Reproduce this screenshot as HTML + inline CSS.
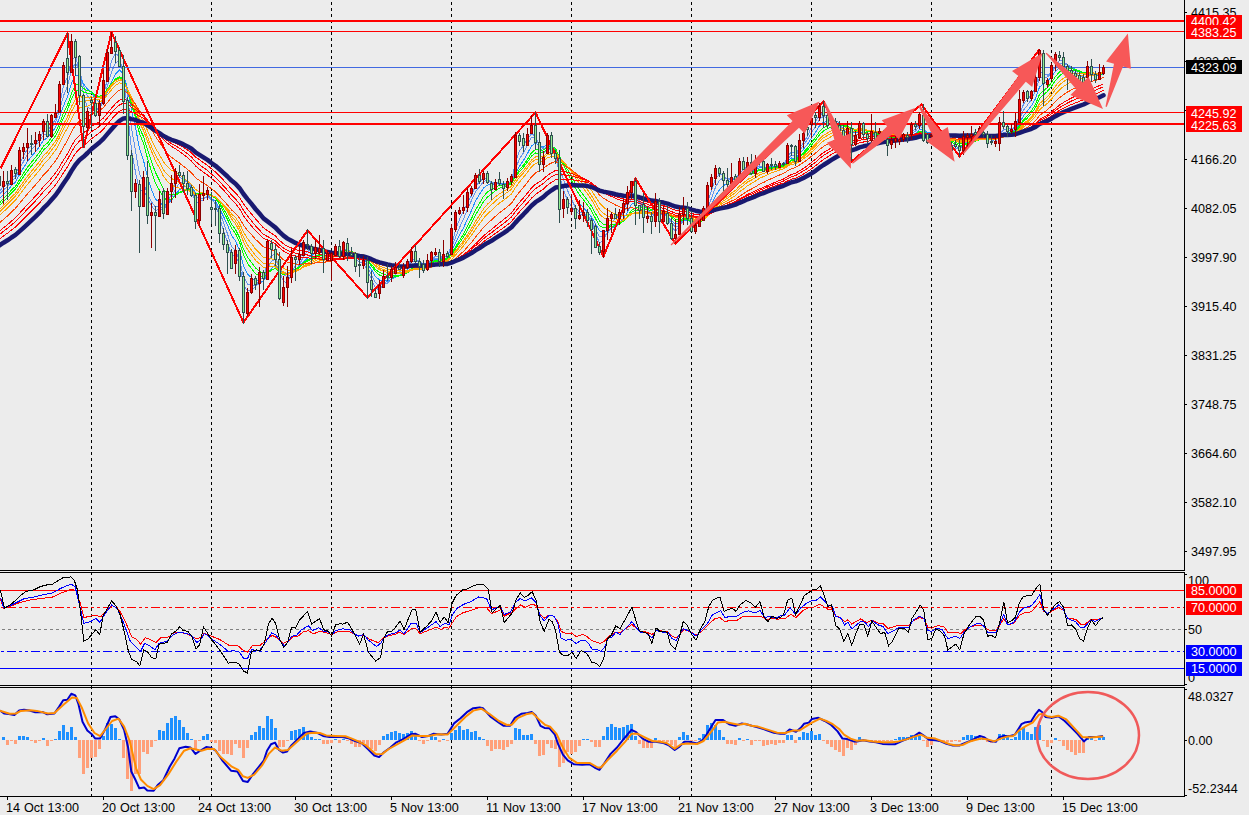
<!DOCTYPE html>
<html><head><meta charset="utf-8"><title>Chart</title>
<style>html,body{margin:0;padding:0;background:#ececec;width:1249px;height:815px;overflow:hidden;font-family:"Liberation Sans",sans-serif}</style>
</head><body>
<svg width="1249" height="815" viewBox="0 0 1249 815" style="display:block">
<rect x="0" y="0" width="1249" height="815" fill="#ececec"/>
<line x1="91.5" y1="2" x2="91.5" y2="797" stroke="#000" stroke-width="1" stroke-dasharray="3 3" shape-rendering="crispEdges"/>
<line x1="211.5" y1="2" x2="211.5" y2="797" stroke="#000" stroke-width="1" stroke-dasharray="3 3" shape-rendering="crispEdges"/>
<line x1="331.5" y1="2" x2="331.5" y2="797" stroke="#000" stroke-width="1" stroke-dasharray="3 3" shape-rendering="crispEdges"/>
<line x1="451.5" y1="2" x2="451.5" y2="797" stroke="#000" stroke-width="1" stroke-dasharray="3 3" shape-rendering="crispEdges"/>
<line x1="571.5" y1="2" x2="571.5" y2="797" stroke="#000" stroke-width="1" stroke-dasharray="3 3" shape-rendering="crispEdges"/>
<line x1="691.5" y1="2" x2="691.5" y2="797" stroke="#000" stroke-width="1" stroke-dasharray="3 3" shape-rendering="crispEdges"/>
<line x1="811.5" y1="2" x2="811.5" y2="797" stroke="#000" stroke-width="1" stroke-dasharray="3 3" shape-rendering="crispEdges"/>
<line x1="931.5" y1="2" x2="931.5" y2="797" stroke="#000" stroke-width="1" stroke-dasharray="3 3" shape-rendering="crispEdges"/>
<line x1="1051.5" y1="2" x2="1051.5" y2="797" stroke="#000" stroke-width="1" stroke-dasharray="3 3" shape-rendering="crispEdges"/>
<g>
<polyline fill="none" stroke="#6495ed" stroke-width="1" shape-rendering="crispEdges" points="-4.5,196.8 -0.5,191.4 3.5,186.4 7.5,184.2 11.5,178.1 15.5,175.4 19.5,164.7 23.5,155.9 27.5,149.1 31.5,145.4 35.5,143.0 39.5,139.2 43.5,131.5 47.5,132.0 51.5,124.9 55.5,119.5 59.5,104.6 63.5,85.8 67.5,76.9 71.5,59.9 75.5,56.5 79.5,71.0 83.5,94.9 87.5,107.4 91.5,109.3 95.5,111.9 99.5,107.7 103.5,96.6 107.5,77.4 111.5,61.2 115.5,53.4 119.5,56.8 123.5,75.6 127.5,111.1 131.5,150.2 135.5,172.1 139.5,191.5 143.5,188.8 147.5,199.1 151.5,205.8 155.5,210.8 159.5,208.5 163.5,209.6 167.5,202.1 171.5,193.5 175.5,183.3 179.5,177.5 183.5,178.7 187.5,182.7 191.5,189.0 195.5,203.3 199.5,202.2 203.5,199.6 207.5,195.3 211.5,199.1 215.5,204.1 219.5,217.2 223.5,230.7 227.5,242.0 231.5,255.4 235.5,255.7 239.5,264.7 243.5,284.9 247.5,291.1 251.5,289.3 255.5,287.1 259.5,279.3 263.5,277.9 267.5,263.1 271.5,255.2 275.5,254.8 279.5,271.3 283.5,281.4 287.5,282.9 291.5,273.6 295.5,265.3 299.5,258.9 303.5,251.0 307.5,247.8 311.5,249.0 315.5,248.4 319.5,248.9 323.5,253.2 327.5,253.7 331.5,254.2 335.5,251.3 339.5,252.6 343.5,248.6 347.5,249.7 351.5,252.1 355.5,258.0 359.5,262.5 363.5,262.7 367.5,270.9 371.5,279.2 375.5,288.4 379.5,289.6 383.5,284.7 387.5,280.8 391.5,274.9 395.5,271.0 399.5,269.7 403.5,267.9 407.5,265.2 411.5,259.3 415.5,259.0 419.5,261.5 423.5,265.6 427.5,264.8 431.5,259.9 435.5,255.9 439.5,256.9 443.5,256.0 447.5,256.5 451.5,245.4 455.5,230.3 459.5,219.3 463.5,211.5 467.5,202.6 471.5,195.7 475.5,186.0 479.5,182.2 483.5,177.8 487.5,178.9 491.5,183.4 495.5,183.7 499.5,184.3 503.5,185.9 507.5,184.1 511.5,181.1 515.5,162.3 519.5,150.7 523.5,145.4 527.5,139.3 531.5,133.8 535.5,136.1 539.5,147.1 543.5,153.4 547.5,148.6 551.5,150.0 555.5,152.3 559.5,175.6 563.5,189.7 567.5,200.6 571.5,206.5 575.5,211.4 579.5,214.2 583.5,214.2 587.5,216.9 591.5,222.0 595.5,233.2 599.5,243.2 603.5,240.4 607.5,231.8 611.5,222.7 615.5,218.5 619.5,215.3 623.5,210.3 627.5,202.4 631.5,192.3 635.5,195.5 639.5,201.4 643.5,209.4 647.5,214.5 651.5,218.1 655.5,212.1 659.5,215.0 663.5,213.5 667.5,217.3 671.5,226.9 675.5,231.2 679.5,226.2 683.5,218.5 687.5,216.3 691.5,221.3 695.5,224.2 699.5,223.2 703.5,217.2 707.5,203.0 711.5,190.2 715.5,178.6 719.5,174.0 723.5,175.7 727.5,179.5 731.5,179.8 735.5,180.0 739.5,172.4 743.5,169.9 747.5,166.1 751.5,168.2 755.5,168.1 759.5,165.9 763.5,168.0 767.5,166.4 771.5,166.1 775.5,166.3 779.5,164.9 783.5,164.7 787.5,156.9 791.5,151.5 795.5,154.1 799.5,148.5 803.5,142.5 807.5,136.1 811.5,127.0 815.5,121.8 819.5,114.5 823.5,113.5 827.5,117.9 831.5,120.4 835.5,124.0 839.5,127.2 843.5,131.7 847.5,131.4 851.5,136.9 855.5,137.0 859.5,131.8 863.5,132.4 867.5,134.0 871.5,133.4 875.5,136.4 879.5,134.6 883.5,135.9 887.5,140.0 891.5,140.7 895.5,140.5 899.5,140.0 903.5,137.4 907.5,137.1 911.5,131.9 915.5,128.9 919.5,122.4 923.5,128.3 927.5,134.7 931.5,136.5 935.5,140.2 939.5,142.7 943.5,145.4 947.5,147.9 951.5,149.4 955.5,148.5 959.5,149.2 963.5,144.1 967.5,139.9 971.5,136.8 975.5,134.9 979.5,132.2 983.5,132.7 987.5,136.9 991.5,139.8 995.5,141.5 999.5,134.3 1003.5,129.9 1007.5,129.2 1011.5,128.8 1015.5,126.4 1019.5,115.3 1023.5,104.1 1027.5,99.2 1031.5,94.6 1035.5,87.4 1039.5,71.6 1043.5,73.2 1047.5,75.1 1051.5,72.1 1055.5,65.9 1059.5,60.5 1063.5,61.3 1067.5,65.1 1071.5,69.6 1075.5,73.4 1079.5,76.9 1083.5,79.8 1087.5,75.1 1091.5,74.3 1095.5,75.7 1099.5,74.4 1103.5,72.1"/>
<polyline fill="none" stroke="#6495ed" stroke-width="1" shape-rendering="crispEdges" points="-4.5,199.5 -0.5,194.5 3.5,189.7 7.5,186.7 11.5,181.1 15.5,177.9 19.5,169.1 23.5,161.5 27.5,154.6 31.5,149.7 35.5,145.6 39.5,141.2 43.5,134.9 47.5,134.3 51.5,128.2 55.5,122.9 59.5,110.7 63.5,95.8 67.5,86.2 71.5,70.1 75.5,63.0 79.5,69.6 83.5,85.9 87.5,95.8 91.5,101.1 95.5,108.6 99.5,109.2 103.5,101.0 107.5,85.5 111.5,72.1 115.5,62.9 119.5,60.4 123.5,70.3 127.5,95.7 131.5,127.8 135.5,150.9 139.5,174.2 143.5,181.8 147.5,195.0 151.5,201.9 155.5,207.0 159.5,206.3 163.5,208.9 167.5,204.8 171.5,197.8 175.5,188.9 179.5,183.1 183.5,181.5 187.5,182.1 191.5,185.8 195.5,196.8 199.5,198.3 203.5,198.4 207.5,196.8 211.5,200.3 215.5,202.7 219.5,211.4 223.5,222.6 227.5,233.8 231.5,246.7 235.5,250.7 239.5,260.2 243.5,276.8 247.5,284.0 251.5,284.8 255.5,286.2 259.5,283.3 263.5,281.1 267.5,268.3 271.5,261.1 275.5,258.8 279.5,268.6 283.5,274.6 287.5,276.9 291.5,273.6 295.5,270.2 299.5,264.8 303.5,256.2 307.5,251.2 311.5,250.4 315.5,249.1 319.5,248.5 323.5,251.6 327.5,252.8 331.5,253.4 335.5,251.6 339.5,253.0 343.5,250.0 347.5,250.2 351.5,251.5 355.5,255.9 359.5,259.4 363.5,260.5 367.5,267.7 371.5,275.1 375.5,282.9 379.5,285.3 383.5,284.3 387.5,283.0 391.5,278.6 395.5,274.3 399.5,271.6 403.5,269.4 407.5,266.6 411.5,261.7 415.5,260.9 419.5,261.9 423.5,264.1 427.5,263.4 431.5,260.6 435.5,258.4 439.5,258.6 443.5,256.8 447.5,256.2 451.5,248.3 455.5,237.3 459.5,227.6 463.5,219.1 467.5,208.9 471.5,200.5 475.5,191.6 479.5,186.9 483.5,181.4 487.5,180.3 491.5,182.3 495.5,182.5 499.5,183.3 503.5,185.1 507.5,184.6 511.5,182.2 515.5,168.5 519.5,159.0 523.5,152.6 527.5,144.9 531.5,137.2 535.5,137.0 539.5,144.7 543.5,149.0 547.5,146.3 551.5,149.2 555.5,152.6 559.5,169.0 563.5,179.4 567.5,190.4 571.5,199.3 575.5,207.6 579.5,211.9 583.5,212.7 587.5,215.6 591.5,220.1 595.5,228.6 599.5,236.8 603.5,237.0 607.5,233.1 611.5,227.8 615.5,223.9 619.5,218.8 623.5,212.8 627.5,206.0 631.5,197.8 635.5,198.3 639.5,200.7 643.5,205.4 647.5,209.6 651.5,214.6 655.5,212.5 659.5,215.1 663.5,214.2 667.5,216.6 671.5,223.0 675.5,227.2 679.5,225.2 683.5,220.7 687.5,219.8 691.5,222.2 695.5,222.5 699.5,221.5 703.5,218.3 707.5,208.9 711.5,198.3 715.5,187.1 719.5,180.3 723.5,177.9 727.5,178.5 731.5,178.3 735.5,179.0 739.5,174.5 743.5,172.6 747.5,168.9 751.5,169.2 755.5,168.0 759.5,166.2 763.5,167.7 767.5,166.8 771.5,166.4 775.5,166.2 779.5,165.4 783.5,165.1 787.5,159.3 791.5,154.9 795.5,155.7 799.5,150.8 803.5,145.0 807.5,139.5 811.5,132.6 815.5,126.6 819.5,118.9 823.5,116.4 827.5,117.9 831.5,119.0 835.5,121.5 839.5,124.8 843.5,129.4 847.5,130.0 851.5,134.6 855.5,135.7 859.5,132.7 863.5,133.1 867.5,134.4 871.5,133.6 875.5,135.0 879.5,134.3 883.5,135.9 887.5,138.7 891.5,139.5 895.5,139.7 899.5,139.8 903.5,138.6 907.5,138.0 911.5,133.8 915.5,131.1 919.5,125.7 923.5,128.8 927.5,132.5 931.5,133.8 935.5,137.1 939.5,140.8 943.5,144.1 947.5,146.0 951.5,147.8 955.5,148.1 959.5,149.0 963.5,145.5 967.5,142.2 971.5,139.3 975.5,137.0 979.5,133.9 983.5,133.2 987.5,136.0 991.5,138.0 995.5,139.5 999.5,135.2 1003.5,132.7 1007.5,131.6 1011.5,130.1 1015.5,127.0 1019.5,118.7 1023.5,110.3 1027.5,105.1 1031.5,99.2 1035.5,91.2 1039.5,77.9 1043.5,77.5 1047.5,77.0 1051.5,72.8 1055.5,67.0 1059.5,63.8 1063.5,64.1 1067.5,64.8 1071.5,67.0 1075.5,70.4 1079.5,74.4 1083.5,77.7 1087.5,75.3 1091.5,75.2 1095.5,76.3 1099.5,75.1 1103.5,72.6"/>
<polyline fill="none" stroke="#1e90ff" stroke-width="1" shape-rendering="crispEdges" points="-4.5,203.5 -0.5,198.8 3.5,194.2 7.5,190.8 11.5,185.7 15.5,182.0 19.5,174.6 23.5,167.8 27.5,161.4 31.5,156.4 35.5,151.6 39.5,146.6 43.5,140.1 47.5,137.9 51.5,132.3 55.5,127.6 59.5,117.9 63.5,105.8 67.5,96.8 71.5,83.2 75.5,75.0 79.5,76.1 83.5,84.0 87.5,89.1 91.5,92.5 95.5,98.8 99.5,102.0 103.5,99.7 107.5,91.7 111.5,82.4 115.5,74.1 119.5,69.8 123.5,73.9 127.5,88.9 131.5,110.0 135.5,127.7 139.5,148.3 143.5,160.3 147.5,177.2 151.5,189.7 155.5,199.2 159.5,202.2 163.5,205.9 167.5,203.8 171.5,200.2 175.5,194.1 179.5,189.7 183.5,186.9 187.5,185.7 191.5,186.6 195.5,193.0 199.5,193.6 203.5,194.4 207.5,194.6 211.5,198.4 215.5,201.4 219.5,208.4 223.5,216.5 227.5,224.9 231.5,235.2 235.5,240.9 239.5,250.6 243.5,265.6 247.5,274.0 251.5,277.7 255.5,281.0 259.5,280.9 263.5,281.3 267.5,273.7 271.5,268.4 275.5,265.0 279.5,269.9 283.5,272.8 287.5,273.8 291.5,270.9 295.5,269.0 299.5,266.3 303.5,261.8 307.5,257.9 311.5,255.7 315.5,252.4 319.5,250.4 323.5,251.5 327.5,251.8 331.5,252.1 335.5,251.2 339.5,252.5 343.5,250.7 347.5,250.9 351.5,251.8 355.5,254.7 359.5,257.0 363.5,258.1 367.5,263.5 371.5,269.7 375.5,276.5 379.5,279.9 383.5,280.7 387.5,281.1 391.5,279.4 395.5,277.3 399.5,275.5 403.5,272.9 407.5,269.6 411.5,265.0 415.5,263.4 419.5,263.3 423.5,264.3 427.5,263.4 431.5,261.1 435.5,259.2 439.5,259.4 443.5,258.3 447.5,257.8 451.5,251.6 455.5,242.9 459.5,235.0 463.5,227.9 467.5,218.9 471.5,210.5 475.5,200.9 479.5,194.4 483.5,188.0 487.5,185.1 491.5,184.7 495.5,183.4 499.5,182.9 503.5,183.9 507.5,183.7 511.5,182.5 515.5,173.2 519.5,166.1 523.5,160.4 527.5,153.5 531.5,145.9 535.5,143.0 539.5,145.4 543.5,147.0 547.5,144.7 551.5,146.9 555.5,149.6 559.5,162.3 563.5,171.4 567.5,180.8 571.5,188.5 575.5,196.8 579.5,203.2 583.5,207.8 587.5,212.2 591.5,217.0 595.5,223.8 599.5,230.8 603.5,232.1 607.5,230.6 611.5,228.1 615.5,226.4 619.5,223.5 623.5,218.8 627.5,212.2 631.5,204.3 635.5,202.6 639.5,203.0 643.5,205.2 647.5,207.3 651.5,210.3 655.5,209.2 659.5,212.4 663.5,213.1 667.5,215.9 671.5,220.7 675.5,224.0 679.5,222.7 683.5,220.3 687.5,220.1 691.5,222.6 695.5,223.2 699.5,222.3 703.5,219.3 707.5,212.0 711.5,204.2 715.5,196.0 719.5,189.7 723.5,185.7 727.5,183.3 731.5,180.5 735.5,179.2 739.5,175.1 743.5,173.7 747.5,171.3 751.5,171.4 755.5,169.9 759.5,167.9 763.5,168.0 767.5,167.0 771.5,166.5 775.5,166.6 779.5,165.9 783.5,165.5 787.5,161.3 791.5,158.0 795.5,158.1 799.5,154.0 803.5,149.1 807.5,144.2 811.5,137.9 815.5,132.5 819.5,125.8 823.5,122.3 827.5,121.4 831.5,120.3 835.5,121.0 839.5,122.7 843.5,125.9 847.5,127.1 851.5,131.4 855.5,133.2 859.5,132.0 863.5,132.8 867.5,134.2 871.5,133.8 875.5,135.0 879.5,134.3 883.5,135.2 887.5,137.2 891.5,138.2 895.5,138.7 899.5,139.1 903.5,138.4 907.5,138.3 911.5,135.6 915.5,133.5 919.5,129.2 923.5,130.6 927.5,132.5 931.5,133.0 935.5,134.9 939.5,137.5 943.5,140.3 947.5,143.1 951.5,145.4 955.5,146.5 959.5,147.6 963.5,145.8 967.5,143.8 971.5,141.7 975.5,139.8 979.5,136.9 983.5,135.6 987.5,136.5 991.5,137.4 995.5,138.1 999.5,135.2 1003.5,133.5 1007.5,132.9 1011.5,132.0 1015.5,129.6 1019.5,123.0 1023.5,115.8 1027.5,110.9 1031.5,105.6 1035.5,98.5 1039.5,87.1 1043.5,84.0 1047.5,81.4 1051.5,76.8 1055.5,71.3 1059.5,67.4 1063.5,66.0 1067.5,66.2 1071.5,67.4 1075.5,69.4 1079.5,71.5 1083.5,74.1 1087.5,73.4 1091.5,74.4 1095.5,75.8 1099.5,75.4 1103.5,73.9"/>
<polyline fill="none" stroke="#00ff00" stroke-width="1" shape-rendering="crispEdges" points="-4.5,207.5 -0.5,202.9 3.5,198.4 7.5,194.9 11.5,190.0 15.5,186.3 19.5,179.6 23.5,173.4 27.5,167.3 31.5,162.3 35.5,157.4 39.5,152.3 43.5,146.1 47.5,143.1 51.5,137.4 55.5,132.3 59.5,123.6 63.5,113.1 67.5,105.1 71.5,93.2 75.5,85.2 79.5,84.1 83.5,88.5 87.5,90.6 91.5,91.7 95.5,95.1 99.5,96.9 103.5,95.3 107.5,89.8 111.5,84.0 115.5,79.0 119.5,76.6 123.5,79.2 127.5,89.6 131.5,104.7 135.5,117.8 139.5,133.4 143.5,143.3 147.5,158.3 151.5,171.4 155.5,183.2 159.5,190.5 163.5,198.0 167.5,200.0 171.5,199.2 175.5,195.5 179.5,192.3 183.5,190.4 187.5,189.3 191.5,189.6 195.5,193.6 199.5,193.4 203.5,193.2 207.5,192.9 211.5,195.7 215.5,198.4 219.5,204.6 223.5,211.9 227.5,219.4 231.5,228.4 235.5,233.5 239.5,241.9 243.5,254.7 247.5,263.4 251.5,268.6 255.5,273.7 259.5,275.7 263.5,277.9 267.5,273.5 271.5,270.2 275.5,268.4 279.5,272.5 283.5,274.5 287.5,274.4 291.5,271.3 295.5,269.2 299.5,266.8 303.5,262.8 307.5,259.8 311.5,258.4 315.5,256.4 319.5,254.5 323.5,254.2 327.5,253.1 331.5,252.5 335.5,251.3 339.5,252.0 343.5,250.6 347.5,250.9 351.5,251.7 355.5,254.0 359.5,256.0 363.5,256.9 367.5,261.1 371.5,266.0 375.5,271.7 379.5,275.0 383.5,276.5 387.5,277.8 391.5,277.6 395.5,276.7 399.5,275.9 403.5,274.5 407.5,272.3 411.5,268.7 415.5,266.7 419.5,265.7 423.5,265.6 427.5,264.4 431.5,262.2 435.5,260.3 439.5,260.2 443.5,259.1 447.5,258.4 451.5,253.6 455.5,246.9 459.5,240.5 463.5,234.1 467.5,226.1 471.5,218.5 475.5,209.9 479.5,203.4 483.5,196.5 487.5,192.0 491.5,189.5 495.5,186.9 499.5,185.3 503.5,185.0 507.5,184.0 511.5,182.6 515.5,175.3 519.5,169.6 523.5,165.1 527.5,159.4 531.5,152.8 535.5,149.5 539.5,150.1 543.5,150.0 547.5,146.7 551.5,146.9 555.5,148.3 559.5,157.8 563.5,165.3 567.5,173.2 571.5,180.5 575.5,188.5 579.5,195.0 583.5,199.8 587.5,205.0 591.5,210.8 595.5,218.5 599.5,225.6 603.5,227.9 607.5,227.6 611.5,226.4 615.5,225.8 619.5,224.0 623.5,220.9 627.5,216.2 631.5,210.1 635.5,208.1 639.5,207.1 643.5,207.4 647.5,207.9 651.5,209.6 655.5,208.4 659.5,210.5 663.5,210.9 667.5,213.3 671.5,217.8 675.5,221.3 679.5,221.1 683.5,219.7 687.5,219.7 691.5,221.6 695.5,222.4 699.5,222.0 703.5,220.2 707.5,214.7 711.5,208.4 715.5,201.2 719.5,195.5 723.5,191.7 727.5,189.1 731.5,185.9 735.5,183.4 739.5,178.6 743.5,176.0 747.5,172.9 751.5,172.3 755.5,171.1 759.5,169.5 763.5,169.5 767.5,168.3 771.5,167.5 775.5,166.9 779.5,166.2 783.5,165.8 787.5,162.6 791.5,159.9 795.5,159.7 799.5,156.3 803.5,152.3 807.5,148.0 811.5,142.5 815.5,137.6 819.5,131.5 823.5,127.5 827.5,125.8 831.5,124.0 835.5,123.4 839.5,123.7 843.5,125.2 847.5,125.7 851.5,128.8 855.5,130.4 859.5,130.0 863.5,131.3 867.5,133.0 871.5,133.2 875.5,134.4 879.5,134.2 883.5,135.0 887.5,136.7 891.5,137.4 895.5,137.8 899.5,138.2 903.5,137.9 907.5,138.1 911.5,136.1 915.5,134.5 919.5,131.3 923.5,132.2 927.5,133.5 931.5,133.5 935.5,134.6 939.5,136.4 943.5,138.4 947.5,140.5 951.5,142.5 955.5,143.8 959.5,145.5 963.5,144.8 967.5,143.8 971.5,142.4 975.5,141.1 979.5,138.9 983.5,137.8 987.5,138.1 991.5,138.3 995.5,138.4 999.5,135.7 1003.5,134.0 1007.5,133.3 1011.5,132.6 1015.5,130.7 1019.5,125.6 1023.5,119.9 1027.5,115.7 1031.5,110.8 1035.5,104.2 1039.5,94.4 1043.5,90.8 1047.5,87.5 1051.5,82.5 1055.5,76.5 1059.5,72.0 1063.5,69.8 1067.5,68.9 1071.5,68.8 1075.5,69.4 1079.5,70.9 1083.5,72.9 1087.5,72.3 1091.5,72.8 1095.5,74.1 1099.5,74.4 1103.5,73.8"/>
<polyline fill="none" stroke="#00ff00" stroke-width="1" shape-rendering="crispEdges" points="-4.5,210.0 -0.5,205.6 3.5,201.1 7.5,197.6 11.5,192.8 15.5,189.1 19.5,182.8 23.5,176.8 27.5,171.0 31.5,166.0 35.5,161.1 39.5,156.1 43.5,150.0 47.5,146.6 51.5,141.0 55.5,135.9 59.5,127.6 63.5,117.7 67.5,109.8 71.5,98.7 75.5,91.0 79.5,89.3 83.5,92.1 87.5,93.1 91.5,93.3 95.5,95.5 99.5,96.3 103.5,94.3 107.5,89.0 111.5,83.7 115.5,79.6 119.5,77.7 123.5,80.5 127.5,90.2 131.5,103.6 135.5,114.7 139.5,128.0 143.5,136.6 147.5,149.8 151.5,161.4 155.5,172.6 159.5,180.5 163.5,189.2 167.5,193.4 171.5,195.2 175.5,194.1 179.5,192.6 183.5,191.4 187.5,190.6 191.5,190.8 195.5,194.4 199.5,194.2 203.5,193.7 207.5,193.1 211.5,195.1 215.5,197.2 219.5,202.4 223.5,208.9 227.5,215.9 231.5,224.3 235.5,229.5 239.5,237.4 243.5,249.2 247.5,257.2 251.5,262.5 255.5,268.0 259.5,271.1 263.5,274.2 267.5,271.6 271.5,269.7 275.5,268.7 279.5,272.7 283.5,274.7 287.5,275.0 291.5,272.6 295.5,270.4 299.5,267.6 303.5,263.9 307.5,261.0 311.5,259.5 315.5,257.4 319.5,255.8 323.5,255.9 327.5,255.0 331.5,254.1 335.5,252.3 339.5,252.3 343.5,250.8 347.5,250.9 351.5,251.5 355.5,253.5 359.5,255.4 363.5,256.3 367.5,260.0 371.5,264.4 375.5,269.5 379.5,272.5 383.5,274.0 387.5,275.5 391.5,275.7 395.5,275.4 399.5,275.3 403.5,274.5 407.5,272.9 411.5,269.9 415.5,268.3 419.5,267.5 423.5,267.2 427.5,265.6 431.5,263.3 435.5,261.3 439.5,260.9 443.5,259.7 447.5,259.0 451.5,254.7 455.5,248.7 459.5,242.9 463.5,237.2 467.5,230.1 471.5,223.0 475.5,214.9 479.5,208.5 483.5,201.8 487.5,197.1 491.5,194.0 495.5,190.6 499.5,188.1 503.5,186.8 507.5,185.3 511.5,183.6 515.5,176.7 519.5,171.4 523.5,167.2 527.5,162.0 531.5,156.1 535.5,153.0 539.5,153.2 543.5,152.5 547.5,149.2 551.5,148.7 555.5,149.2 559.5,156.7 563.5,162.7 567.5,169.5 571.5,176.3 575.5,183.6 579.5,189.8 583.5,195.0 587.5,200.5 591.5,206.3 595.5,213.6 599.5,220.9 603.5,224.3 607.5,225.2 611.5,224.9 615.5,224.7 619.5,223.6 623.5,221.2 627.5,217.3 631.5,212.1 635.5,210.5 639.5,209.6 643.5,209.7 647.5,209.7 651.5,210.4 655.5,208.7 659.5,210.2 663.5,210.4 667.5,212.3 671.5,216.1 675.5,219.2 679.5,219.4 683.5,218.7 687.5,219.2 691.5,221.0 695.5,221.8 699.5,221.6 703.5,220.0 707.5,215.5 711.5,210.2 715.5,203.9 719.5,198.8 723.5,195.0 727.5,192.2 731.5,188.9 735.5,186.4 739.5,181.8 743.5,178.8 747.5,175.3 751.5,173.9 755.5,172.1 759.5,170.3 763.5,170.1 767.5,169.0 771.5,168.3 775.5,167.7 779.5,166.8 783.5,166.2 787.5,163.2 791.5,160.7 795.5,160.5 799.5,157.6 803.5,153.9 807.5,150.0 811.5,145.1 815.5,140.4 819.5,134.7 823.5,130.9 827.5,128.8 831.5,126.7 835.5,125.5 839.5,125.2 843.5,126.2 847.5,126.0 851.5,128.2 855.5,129.3 859.5,128.9 863.5,130.1 867.5,131.7 871.5,132.3 875.5,133.7 879.5,133.8 883.5,134.6 887.5,136.3 891.5,137.1 895.5,137.4 899.5,137.9 903.5,137.6 907.5,137.7 911.5,136.1 915.5,134.9 919.5,132.1 923.5,132.9 927.5,134.0 931.5,134.0 935.5,134.9 939.5,136.3 943.5,137.9 947.5,139.6 951.5,141.3 955.5,142.4 959.5,144.0 963.5,143.6 967.5,143.0 971.5,142.2 975.5,141.4 979.5,139.5 983.5,138.6 987.5,138.9 991.5,139.0 995.5,139.0 999.5,136.5 1003.5,134.8 1007.5,133.9 1011.5,133.0 1015.5,131.2 1019.5,126.8 1023.5,121.7 1027.5,117.9 1031.5,113.5 1035.5,107.6 1039.5,98.6 1043.5,94.9 1047.5,91.3 1051.5,86.3 1055.5,80.5 1059.5,75.8 1063.5,73.0 1067.5,71.3 1071.5,70.5 1075.5,70.6 1079.5,71.5 1083.5,72.7 1087.5,71.9 1091.5,72.4 1095.5,73.7 1099.5,73.7 1103.5,73.1"/>
<polyline fill="none" stroke="#ffa500" stroke-width="1" shape-rendering="crispEdges" points="-4.5,213.8 -0.5,209.5 3.5,205.2 7.5,201.6 11.5,197.0 15.5,193.3 19.5,187.4 23.5,181.7 27.5,176.2 31.5,171.3 35.5,166.5 39.5,161.5 43.5,155.6 47.5,152.0 51.5,146.5 55.5,141.4 59.5,133.6 63.5,124.4 67.5,116.9 71.5,106.6 75.5,98.9 79.5,96.3 83.5,97.7 87.5,97.6 91.5,96.8 95.5,97.8 99.5,97.6 103.5,95.2 107.5,90.1 111.5,85.0 115.5,80.7 119.5,78.7 123.5,80.9 127.5,89.1 131.5,100.8 135.5,110.8 139.5,122.7 143.5,130.3 147.5,141.3 151.5,151.2 155.5,160.9 159.5,168.2 163.5,176.4 167.5,181.5 171.5,185.2 175.5,186.8 179.5,188.1 183.5,189.4 187.5,190.5 191.5,191.5 195.5,194.9 199.5,194.8 203.5,194.6 207.5,193.9 211.5,195.5 215.5,196.9 219.5,200.9 223.5,206.0 227.5,211.8 231.5,218.9 235.5,223.8 239.5,231.1 243.5,241.8 247.5,249.5 251.5,254.8 255.5,260.3 259.5,263.8 263.5,267.5 267.5,266.7 271.5,266.4 275.5,266.9 279.5,271.2 283.5,273.7 287.5,274.6 291.5,273.0 295.5,271.5 299.5,269.4 303.5,266.1 307.5,263.2 311.5,261.4 315.5,259.2 319.5,257.5 323.5,257.2 327.5,256.4 331.5,255.7 335.5,254.4 339.5,254.2 343.5,252.4 347.5,251.7 351.5,251.7 355.5,253.2 359.5,254.6 363.5,255.4 367.5,258.6 371.5,262.4 375.5,266.8 379.5,269.6 383.5,271.2 387.5,272.7 391.5,273.1 395.5,273.2 399.5,273.5 403.5,273.3 407.5,272.4 411.5,270.4 415.5,269.4 419.5,268.9 423.5,268.8 427.5,267.5 431.5,265.4 435.5,263.4 439.5,262.5 443.5,261.1 447.5,260.2 451.5,256.3 455.5,251.0 459.5,245.9 463.5,240.9 467.5,234.6 471.5,228.4 475.5,221.2 479.5,215.3 483.5,208.9 487.5,204.1 491.5,200.6 495.5,196.8 499.5,193.7 503.5,191.5 507.5,188.9 511.5,186.4 515.5,179.7 519.5,174.5 523.5,170.4 527.5,165.4 531.5,160.0 535.5,157.0 539.5,156.8 543.5,156.0 547.5,152.8 551.5,151.9 555.5,151.7 559.5,157.3 563.5,161.7 567.5,166.8 571.5,171.9 575.5,178.0 579.5,183.5 583.5,188.4 587.5,193.8 591.5,199.6 595.5,206.8 599.5,213.9 603.5,217.7 607.5,219.6 611.5,220.8 615.5,222.0 619.5,222.0 623.5,220.6 627.5,217.8 631.5,213.8 635.5,212.6 639.5,211.9 643.5,212.0 647.5,212.0 651.5,212.5 655.5,210.7 659.5,211.3 663.5,210.8 667.5,211.9 671.5,214.8 675.5,217.2 679.5,217.3 683.5,216.8 687.5,217.4 691.5,219.4 695.5,220.6 699.5,220.8 703.5,219.7 707.5,216.0 711.5,211.6 715.5,206.5 719.5,202.2 723.5,198.9 727.5,196.3 731.5,193.1 735.5,190.4 739.5,185.9 743.5,182.9 747.5,179.5 751.5,177.6 755.5,175.2 759.5,172.7 763.5,171.7 767.5,170.2 771.5,169.2 775.5,168.6 779.5,167.8 783.5,167.2 787.5,164.5 791.5,162.1 795.5,161.7 799.5,159.0 803.5,155.8 807.5,152.5 811.5,148.1 815.5,144.0 819.5,138.9 823.5,135.2 827.5,133.0 831.5,130.6 835.5,129.0 839.5,128.1 843.5,128.2 847.5,127.6 851.5,128.9 855.5,129.4 859.5,128.6 863.5,129.2 867.5,130.4 871.5,130.9 875.5,132.2 879.5,132.6 883.5,133.7 887.5,135.4 891.5,136.3 895.5,136.8 899.5,137.3 903.5,137.2 907.5,137.4 911.5,136.1 915.5,135.1 919.5,132.7 923.5,133.5 927.5,134.4 931.5,134.4 935.5,135.2 939.5,136.3 943.5,137.6 947.5,139.0 951.5,140.3 955.5,141.2 959.5,142.4 963.5,142.1 967.5,141.7 971.5,141.2 975.5,140.7 979.5,139.6 983.5,139.1 987.5,139.5 991.5,139.7 995.5,139.7 999.5,137.6 1003.5,136.0 1007.5,135.1 1011.5,134.1 1015.5,132.3 1019.5,128.3 1023.5,123.8 1027.5,120.4 1031.5,116.5 1035.5,111.4 1039.5,103.7 1043.5,100.1 1047.5,96.6 1051.5,91.7 1055.5,86.1 1059.5,81.3 1063.5,78.2 1067.5,75.9 1071.5,74.4 1075.5,73.4 1079.5,73.3 1083.5,73.7 1087.5,72.6 1091.5,72.6 1095.5,73.2 1099.5,73.2 1103.5,72.7"/>
<polyline fill="none" stroke="#ffa500" stroke-width="1" shape-rendering="crispEdges" points="-4.5,216.3 -0.5,212.0 3.5,207.8 7.5,204.2 11.5,199.8 15.5,196.0 19.5,190.4 23.5,184.9 27.5,179.5 31.5,174.7 35.5,170.0 39.5,165.1 43.5,159.3 47.5,155.6 51.5,150.1 55.5,145.0 59.5,137.5 63.5,128.7 67.5,121.4 71.5,111.5 75.5,104.1 79.5,101.0 83.5,101.5 87.5,100.8 91.5,99.5 95.5,99.9 99.5,99.4 103.5,96.7 107.5,91.7 111.5,86.6 115.5,82.4 119.5,80.1 123.5,81.6 127.5,88.6 131.5,98.9 135.5,108.1 139.5,119.1 143.5,126.4 147.5,137.0 151.5,146.5 155.5,155.4 159.5,162.1 163.5,169.8 167.5,174.8 171.5,178.5 175.5,180.6 179.5,182.8 183.5,185.3 187.5,187.6 191.5,189.9 195.5,194.0 199.5,194.7 203.5,194.7 207.5,194.3 211.5,195.8 215.5,197.1 219.5,200.7 223.5,205.1 227.5,210.1 231.5,216.5 235.5,220.8 239.5,227.4 243.5,237.3 247.5,244.7 251.5,250.1 255.5,255.6 259.5,259.4 263.5,263.3 267.5,263.1 271.5,263.3 275.5,264.4 279.5,269.0 283.5,272.0 287.5,273.4 291.5,272.5 295.5,271.5 299.5,269.9 303.5,267.0 307.5,264.5 311.5,263.0 315.5,260.8 319.5,258.8 323.5,258.3 327.5,257.4 331.5,256.6 335.5,255.2 339.5,255.0 343.5,253.5 347.5,252.9 351.5,252.7 355.5,253.5 359.5,254.5 363.5,255.0 367.5,257.9 371.5,261.3 375.5,265.4 379.5,268.0 383.5,269.6 387.5,271.1 391.5,271.7 395.5,271.9 399.5,272.3 403.5,272.2 407.5,271.7 411.5,270.0 415.5,269.4 419.5,269.2 423.5,269.2 427.5,268.2 431.5,266.4 435.5,264.6 439.5,263.8 443.5,262.4 447.5,261.2 451.5,257.5 455.5,252.5 459.5,247.7 463.5,243.0 467.5,237.2 471.5,231.4 475.5,224.7 479.5,219.0 483.5,213.1 487.5,208.4 491.5,204.8 495.5,200.9 499.5,197.5 503.5,195.0 507.5,192.2 511.5,189.2 515.5,182.5 519.5,177.1 523.5,172.8 527.5,167.9 531.5,162.6 535.5,159.5 539.5,158.9 543.5,157.9 547.5,154.8 551.5,153.9 555.5,153.5 559.5,158.3 563.5,161.9 567.5,166.3 571.5,170.6 575.5,175.8 579.5,180.6 583.5,184.9 587.5,189.9 591.5,195.5 595.5,202.4 599.5,209.3 603.5,213.4 607.5,215.9 611.5,217.4 615.5,219.0 619.5,219.7 623.5,219.3 627.5,217.4 631.5,214.1 635.5,213.2 639.5,212.7 643.5,212.9 647.5,212.9 651.5,213.4 655.5,211.8 659.5,212.3 663.5,211.8 667.5,212.5 671.5,214.7 675.5,216.5 679.5,216.5 683.5,216.0 687.5,216.5 691.5,218.3 695.5,219.4 699.5,219.8 703.5,219.2 707.5,216.1 711.5,212.2 715.5,207.6 719.5,203.7 723.5,200.7 727.5,198.3 731.5,195.4 735.5,192.8 739.5,188.6 743.5,185.5 747.5,182.0 751.5,180.0 755.5,177.6 759.5,175.0 763.5,173.6 767.5,171.7 771.5,170.3 775.5,169.3 779.5,168.3 783.5,167.7 787.5,165.3 791.5,163.1 795.5,162.6 799.5,160.1 803.5,157.0 807.5,153.8 811.5,149.8 815.5,146.0 819.5,141.2 823.5,137.7 827.5,135.4 831.5,133.1 835.5,131.4 839.5,130.2 843.5,130.0 847.5,129.0 851.5,129.9 855.5,130.0 859.5,129.0 863.5,129.4 867.5,130.2 871.5,130.4 875.5,131.5 879.5,131.8 883.5,132.8 887.5,134.5 891.5,135.5 895.5,136.2 899.5,136.9 903.5,136.9 907.5,137.2 911.5,136.1 915.5,135.2 919.5,133.1 923.5,133.7 927.5,134.5 931.5,134.6 935.5,135.3 939.5,136.3 943.5,137.5 947.5,138.7 951.5,139.9 955.5,140.7 959.5,141.8 963.5,141.4 967.5,141.1 971.5,140.6 975.5,140.2 979.5,139.2 983.5,138.9 987.5,139.4 991.5,139.8 995.5,139.9 999.5,138.0 1003.5,136.6 1007.5,135.8 1011.5,134.8 1015.5,133.1 1019.5,129.4 1023.5,125.2 1027.5,121.9 1031.5,118.2 1035.5,113.4 1039.5,106.3 1043.5,102.9 1047.5,99.5 1051.5,94.9 1055.5,89.6 1059.5,85.0 1063.5,81.6 1067.5,79.1 1071.5,77.2 1075.5,76.0 1079.5,75.4 1083.5,75.2 1087.5,73.7 1091.5,73.3 1095.5,73.6 1099.5,73.3 1103.5,72.6"/>
<polyline fill="none" stroke="#ffa500" stroke-width="1" shape-rendering="crispEdges" points="-4.5,220.0 -0.5,215.8 3.5,211.7 7.5,208.2 11.5,203.8 15.5,200.2 19.5,194.8 23.5,189.6 27.5,184.4 31.5,179.7 35.5,175.0 39.5,170.2 43.5,164.7 47.5,160.8 51.5,155.5 55.5,150.4 59.5,143.3 63.5,135.0 67.5,127.9 71.5,118.6 75.5,111.3 79.5,107.9 83.5,107.5 87.5,106.1 91.5,104.1 95.5,103.7 99.5,102.5 103.5,99.6 107.5,94.7 111.5,89.8 115.5,85.5 119.5,82.9 123.5,83.6 127.5,89.1 131.5,97.6 135.5,105.2 139.5,114.6 143.5,121.1 147.5,130.7 151.5,139.6 155.5,148.2 159.5,154.8 163.5,162.0 167.5,166.7 171.5,170.3 175.5,172.7 179.5,175.1 183.5,178.0 187.5,181.0 191.5,184.4 195.5,189.5 199.5,191.7 203.5,193.2 207.5,193.9 211.5,195.7 215.5,197.1 219.5,200.3 223.5,204.2 227.5,208.5 231.5,214.0 235.5,217.6 239.5,223.3 243.5,232.0 247.5,238.6 251.5,243.6 255.5,249.0 259.5,253.1 263.5,257.3 267.5,257.8 271.5,258.8 275.5,260.3 279.5,264.9 283.5,268.1 287.5,270.2 291.5,270.2 295.5,270.2 299.5,269.4 303.5,267.4 307.5,265.6 311.5,264.4 315.5,262.6 319.5,261.0 323.5,260.4 327.5,259.2 331.5,258.1 335.5,256.6 339.5,256.2 343.5,254.6 347.5,254.0 351.5,253.8 355.5,254.6 359.5,255.3 363.5,255.4 367.5,257.5 371.5,260.2 375.5,263.6 379.5,266.0 383.5,267.4 387.5,269.0 391.5,269.7 395.5,270.1 399.5,270.6 403.5,270.8 407.5,270.4 411.5,269.2 415.5,268.8 419.5,268.8 423.5,269.1 427.5,268.5 431.5,267.1 435.5,265.7 439.5,265.1 443.5,263.9 447.5,262.9 451.5,259.5 455.5,254.9 459.5,250.4 463.5,246.0 467.5,240.6 471.5,235.3 475.5,229.2 479.5,224.0 483.5,218.4 487.5,213.9 491.5,210.4 495.5,206.6 499.5,203.1 503.5,200.3 507.5,197.1 511.5,193.9 515.5,187.4 519.5,182.0 523.5,177.3 527.5,172.2 531.5,166.8 535.5,163.4 539.5,162.3 543.5,160.9 547.5,157.8 551.5,156.5 555.5,155.9 559.5,159.8 563.5,162.7 567.5,166.3 571.5,169.9 575.5,174.2 579.5,178.1 583.5,181.6 587.5,185.8 591.5,190.5 595.5,196.7 599.5,203.0 603.5,207.2 607.5,210.0 611.5,212.1 615.5,214.3 619.5,215.7 623.5,215.9 627.5,215.0 631.5,213.0 635.5,213.0 639.5,213.1 643.5,213.5 647.5,213.7 651.5,214.2 655.5,212.9 659.5,213.4 663.5,212.9 667.5,213.5 671.5,215.3 675.5,216.7 679.5,216.3 683.5,215.5 687.5,215.7 691.5,217.2 695.5,218.1 699.5,218.4 703.5,217.9 707.5,215.4 711.5,212.4 715.5,208.6 719.5,205.4 723.5,202.8 727.5,200.7 731.5,198.0 735.5,195.6 739.5,191.8 743.5,189.0 747.5,185.7 751.5,183.5 755.5,181.0 759.5,178.2 763.5,176.6 767.5,174.6 771.5,172.9 775.5,171.5 779.5,170.0 783.5,168.9 787.5,166.4 791.5,164.3 795.5,163.8 799.5,161.6 803.5,158.8 807.5,155.9 811.5,152.1 815.5,148.5 819.5,144.2 823.5,140.9 827.5,138.7 831.5,136.4 835.5,134.6 839.5,133.2 843.5,132.7 847.5,131.5 851.5,131.9 855.5,131.6 859.5,130.4 863.5,130.3 867.5,130.7 871.5,130.6 875.5,131.3 879.5,131.3 883.5,132.0 887.5,133.4 891.5,134.3 895.5,135.0 899.5,135.8 903.5,136.1 907.5,136.5 911.5,135.8 915.5,135.1 919.5,133.4 923.5,134.0 927.5,134.7 931.5,134.7 935.5,135.3 939.5,136.2 943.5,137.2 947.5,138.3 951.5,139.3 955.5,140.0 959.5,141.0 963.5,140.8 967.5,140.5 971.5,140.1 975.5,139.7 979.5,138.8 983.5,138.5 987.5,139.0 991.5,139.3 995.5,139.6 999.5,138.2 1003.5,137.1 1007.5,136.5 1011.5,135.6 1015.5,134.1 1019.5,130.8 1023.5,127.1 1027.5,124.0 1031.5,120.6 1035.5,116.2 1039.5,109.7 1043.5,106.5 1047.5,103.3 1051.5,99.0 1055.5,94.1 1059.5,89.8 1063.5,86.5 1067.5,83.9 1071.5,81.8 1075.5,80.1 1079.5,79.0 1083.5,78.3 1087.5,76.4 1091.5,75.4 1095.5,75.1 1099.5,74.3 1103.5,73.3"/>
<polyline fill="none" stroke="#ff4500" stroke-width="1" shape-rendering="crispEdges" points="-4.5,227.0 -0.5,223.1 3.5,219.3 7.5,215.9 11.5,211.9 15.5,208.3 19.5,203.4 23.5,198.6 27.5,193.8 31.5,189.3 35.5,184.9 39.5,180.2 43.5,175.0 47.5,171.1 51.5,165.9 55.5,161.0 59.5,154.4 63.5,146.9 67.5,140.2 71.5,131.8 75.5,124.9 79.5,120.9 83.5,119.4 87.5,117.0 91.5,114.3 95.5,112.8 99.5,110.7 103.5,107.4 107.5,102.4 111.5,97.5 115.5,93.2 119.5,90.1 123.5,89.7 127.5,93.1 131.5,98.9 135.5,104.2 139.5,110.9 143.5,115.6 147.5,122.8 151.5,129.7 155.5,136.6 159.5,142.2 163.5,148.7 167.5,153.4 171.5,157.3 175.5,160.2 179.5,163.1 183.5,166.3 187.5,169.4 191.5,172.8 195.5,177.7 199.5,180.6 203.5,183.3 207.5,185.5 211.5,188.8 215.5,191.8 219.5,196.0 223.5,200.5 227.5,204.9 231.5,209.9 235.5,213.2 239.5,218.0 243.5,225.0 247.5,230.4 251.5,234.7 255.5,239.3 259.5,242.9 263.5,246.8 267.5,248.0 271.5,249.6 275.5,251.6 279.5,256.2 283.5,259.8 287.5,262.4 291.5,263.3 295.5,264.2 299.5,264.6 303.5,264.0 307.5,263.5 311.5,263.5 315.5,263.0 319.5,262.3 323.5,262.3 327.5,261.7 331.5,261.0 335.5,259.8 339.5,259.2 343.5,257.7 347.5,256.9 351.5,256.2 355.5,256.4 359.5,256.6 363.5,256.5 367.5,258.0 371.5,260.0 375.5,262.6 379.5,264.3 383.5,265.3 387.5,266.4 391.5,266.8 395.5,267.2 399.5,267.7 403.5,268.1 407.5,268.0 411.5,267.3 415.5,267.2 419.5,267.4 423.5,267.9 427.5,267.6 431.5,266.8 435.5,265.9 439.5,265.7 443.5,265.0 447.5,264.5 451.5,262.0 455.5,258.5 459.5,255.0 463.5,251.4 467.5,246.9 471.5,242.4 475.5,237.1 479.5,232.4 483.5,227.4 487.5,223.3 491.5,219.9 495.5,216.2 499.5,212.8 503.5,209.9 507.5,206.6 511.5,203.2 515.5,197.2 519.5,192.0 523.5,187.3 527.5,182.2 531.5,176.8 535.5,172.9 539.5,170.9 543.5,168.6 547.5,165.1 551.5,163.0 555.5,161.5 559.5,163.7 563.5,165.3 567.5,167.6 571.5,170.0 575.5,173.1 579.5,176.0 583.5,178.6 587.5,181.7 591.5,185.3 595.5,190.1 599.5,195.0 603.5,198.3 607.5,200.6 611.5,202.7 615.5,205.0 619.5,206.8 623.5,207.9 627.5,208.2 631.5,207.6 635.5,208.5 639.5,209.6 643.5,211.0 647.5,212.0 651.5,213.2 655.5,212.8 659.5,213.7 663.5,213.7 667.5,214.3 671.5,215.8 675.5,217.0 679.5,216.7 683.5,216.1 687.5,216.1 691.5,217.0 695.5,217.5 699.5,217.5 703.5,216.8 707.5,214.6 711.5,212.1 715.5,209.1 719.5,206.6 723.5,204.6 727.5,203.0 731.5,201.0 735.5,199.2 739.5,196.2 743.5,193.8 747.5,191.0 751.5,189.1 755.5,186.7 759.5,184.3 763.5,182.5 767.5,180.4 771.5,178.5 775.5,176.8 779.5,175.0 783.5,173.5 787.5,170.9 791.5,168.6 795.5,167.5 799.5,165.1 803.5,162.4 807.5,159.6 811.5,156.3 815.5,153.2 819.5,149.4 823.5,146.4 827.5,144.3 831.5,141.9 835.5,140.0 839.5,138.5 843.5,137.6 847.5,136.2 851.5,136.1 855.5,135.4 859.5,134.1 863.5,133.6 867.5,133.4 871.5,132.9 875.5,133.0 879.5,132.5 883.5,132.7 887.5,133.3 891.5,133.7 895.5,134.0 899.5,134.4 903.5,134.5 907.5,134.9 911.5,134.4 915.5,134.1 919.5,133.0 923.5,133.7 927.5,134.5 931.5,134.6 935.5,135.2 939.5,135.9 943.5,136.7 947.5,137.5 951.5,138.4 955.5,138.9 959.5,139.7 963.5,139.6 967.5,139.4 971.5,139.2 975.5,139.0 979.5,138.3 983.5,138.1 987.5,138.4 991.5,138.7 995.5,138.8 999.5,137.7 1003.5,136.8 1007.5,136.4 1011.5,135.9 1015.5,134.8 1019.5,132.4 1023.5,129.5 1027.5,127.2 1031.5,124.4 1035.5,120.8 1039.5,115.4 1043.5,112.6 1047.5,109.7 1051.5,105.9 1055.5,101.6 1059.5,97.7 1063.5,94.6 1067.5,92.1 1071.5,89.8 1075.5,88.0 1079.5,86.5 1083.5,85.3 1087.5,83.0 1091.5,81.5 1095.5,80.4 1099.5,79.0 1103.5,77.4"/>
<polyline fill="none" stroke="#ff0000" stroke-width="1" shape-rendering="crispEdges" points="-4.5,234.9 -0.5,231.3 3.5,227.8 7.5,224.7 11.5,221.0 15.5,217.7 19.5,213.3 23.5,208.9 27.5,204.5 31.5,200.3 35.5,196.1 39.5,191.7 43.5,186.7 47.5,182.8 51.5,177.9 55.5,173.1 59.5,166.9 63.5,160.0 67.5,153.8 71.5,146.1 75.5,139.5 79.5,135.2 83.5,132.8 87.5,129.8 91.5,126.5 95.5,124.2 99.5,121.6 103.5,117.9 107.5,113.0 111.5,108.2 115.5,103.7 119.5,100.3 123.5,98.9 127.5,100.5 131.5,104.2 135.5,107.4 139.5,112.0 143.5,114.9 147.5,120.1 151.5,125.2 155.5,130.4 159.5,134.6 163.5,139.6 167.5,143.3 171.5,146.4 175.5,148.9 179.5,151.5 183.5,154.4 187.5,157.6 191.5,161.1 195.5,165.9 199.5,169.2 203.5,172.3 207.5,175.0 211.5,178.5 215.5,181.7 219.5,185.8 223.5,190.1 227.5,194.6 231.5,199.7 235.5,203.6 239.5,208.7 243.5,215.7 247.5,221.3 251.5,225.9 255.5,230.7 259.5,234.5 263.5,238.4 267.5,239.9 271.5,241.7 275.5,243.8 279.5,247.8 283.5,251.0 287.5,253.5 291.5,254.7 295.5,256.1 299.5,257.1 303.5,257.4 307.5,257.8 311.5,258.5 315.5,258.8 319.5,259.0 323.5,259.8 327.5,260.0 331.5,260.2 335.5,259.8 339.5,259.9 343.5,259.1 347.5,258.8 351.5,258.5 355.5,258.7 359.5,258.8 363.5,258.6 367.5,259.6 371.5,260.9 375.5,262.7 379.5,263.8 383.5,264.5 387.5,265.3 391.5,265.7 395.5,266.0 399.5,266.4 403.5,266.6 407.5,266.5 411.5,265.8 415.5,265.7 419.5,265.8 423.5,266.2 427.5,266.1 431.5,265.5 435.5,265.0 439.5,265.0 443.5,264.6 447.5,264.4 451.5,262.6 455.5,260.0 459.5,257.4 463.5,254.7 467.5,251.4 471.5,247.9 475.5,243.8 479.5,240.1 483.5,236.0 487.5,232.5 491.5,229.5 495.5,226.0 499.5,222.7 503.5,219.7 507.5,216.4 511.5,213.0 515.5,207.4 519.5,202.4 523.5,197.9 527.5,193.1 531.5,188.0 535.5,184.2 539.5,181.8 543.5,179.1 547.5,175.3 551.5,172.7 555.5,170.5 559.5,171.3 563.5,171.5 567.5,172.4 571.5,173.4 575.5,175.1 579.5,176.7 583.5,178.2 587.5,180.2 591.5,182.8 595.5,186.4 599.5,190.2 603.5,192.8 607.5,194.7 611.5,196.4 615.5,198.3 619.5,199.9 623.5,201.0 627.5,201.4 631.5,201.2 635.5,202.2 639.5,203.5 643.5,205.0 647.5,206.4 651.5,208.0 655.5,208.4 659.5,209.8 663.5,210.5 667.5,211.7 671.5,213.6 675.5,215.1 679.5,215.4 683.5,215.2 687.5,215.6 691.5,216.6 695.5,217.1 699.5,217.2 703.5,216.8 707.5,215.1 711.5,213.1 715.5,210.5 719.5,208.4 723.5,206.6 727.5,205.0 731.5,203.1 735.5,201.4 739.5,198.8 743.5,196.7 747.5,194.4 751.5,192.8 755.5,190.9 759.5,188.9 763.5,187.4 767.5,185.5 771.5,183.8 775.5,182.2 779.5,180.5 783.5,179.0 787.5,176.6 791.5,174.4 795.5,173.2 799.5,170.9 803.5,168.3 807.5,165.6 811.5,162.4 815.5,159.3 819.5,155.7 823.5,152.6 827.5,150.2 831.5,147.8 835.5,145.6 839.5,143.9 843.5,142.8 847.5,141.2 851.5,140.8 855.5,139.9 859.5,138.5 863.5,137.7 867.5,137.3 871.5,136.6 875.5,136.3 879.5,135.7 883.5,135.5 887.5,135.6 891.5,135.5 895.5,135.4 899.5,135.4 903.5,135.2 907.5,135.2 911.5,134.5 915.5,134.0 919.5,132.9 923.5,133.3 927.5,133.8 931.5,133.8 935.5,134.2 939.5,134.8 943.5,135.5 947.5,136.2 951.5,137.0 955.5,137.5 959.5,138.3 963.5,138.3 967.5,138.2 971.5,138.1 975.5,138.0 979.5,137.6 983.5,137.5 987.5,137.8 991.5,138.0 995.5,138.1 999.5,137.2 1003.5,136.5 1007.5,136.2 1011.5,135.7 1015.5,134.9 1019.5,132.9 1023.5,130.6 1027.5,128.8 1031.5,126.6 1035.5,123.8 1039.5,119.6 1043.5,117.3 1047.5,115.0 1051.5,111.9 1055.5,108.4 1059.5,105.1 1063.5,102.5 1067.5,100.1 1071.5,98.0 1075.5,96.1 1079.5,94.4 1083.5,92.9 1087.5,90.6 1091.5,88.8 1095.5,87.4 1099.5,85.6 1103.5,83.8"/>
<polyline fill="none" stroke="#ff0000" stroke-width="1" shape-rendering="crispEdges" points="-4.5,238.1 -0.5,234.6 3.5,231.3 7.5,228.3 11.5,224.9 15.5,221.7 19.5,217.5 23.5,213.3 27.5,209.1 31.5,205.0 35.5,200.8 39.5,196.5 43.5,191.7 47.5,187.8 51.5,182.9 55.5,178.2 59.5,172.2 63.5,165.5 67.5,159.4 71.5,151.9 75.5,145.5 79.5,141.1 83.5,138.5 87.5,135.2 91.5,131.7 95.5,129.2 99.5,126.4 103.5,122.6 107.5,117.8 111.5,112.9 115.5,108.5 119.5,104.9 123.5,103.2 127.5,104.3 131.5,107.2 135.5,109.8 139.5,113.6 143.5,116.0 147.5,120.5 151.5,124.8 155.5,129.4 159.5,133.1 163.5,137.5 167.5,140.8 171.5,143.6 175.5,145.8 179.5,148.1 183.5,150.8 187.5,153.7 191.5,157.0 195.5,161.5 199.5,164.7 203.5,167.7 207.5,170.5 211.5,174.1 215.5,177.4 219.5,181.6 223.5,185.9 227.5,190.3 231.5,195.1 235.5,198.8 239.5,203.8 243.5,210.4 247.5,216.0 251.5,220.8 255.5,225.8 259.5,230.1 263.5,234.4 267.5,236.5 271.5,238.7 275.5,240.9 279.5,244.9 283.5,248.0 287.5,250.4 291.5,251.7 295.5,253.1 299.5,254.1 303.5,254.5 307.5,255.0 311.5,255.9 315.5,256.4 319.5,256.9 323.5,257.8 327.5,258.4 331.5,258.8 335.5,258.7 339.5,259.0 343.5,258.5 347.5,258.4 351.5,258.3 355.5,258.8 359.5,259.1 363.5,259.0 367.5,260.0 371.5,261.3 375.5,263.0 379.5,264.1 383.5,264.7 387.5,265.4 391.5,265.7 395.5,265.9 399.5,266.2 403.5,266.3 407.5,266.2 411.5,265.5 415.5,265.4 419.5,265.6 423.5,265.9 427.5,265.7 431.5,265.1 435.5,264.6 439.5,264.6 443.5,264.3 447.5,264.1 451.5,262.5 455.5,260.2 459.5,257.9 463.5,255.6 467.5,252.6 471.5,249.4 475.5,245.7 479.5,242.4 483.5,238.7 487.5,235.5 491.5,232.7 495.5,229.5 499.5,226.4 503.5,223.5 507.5,220.3 511.5,216.9 515.5,211.5 519.5,206.6 523.5,202.2 527.5,197.4 531.5,192.5 535.5,188.6 539.5,186.1 543.5,183.4 547.5,179.6 551.5,176.9 555.5,174.6 559.5,174.9 563.5,174.9 567.5,175.3 571.5,175.9 575.5,177.1 579.5,178.2 583.5,179.3 587.5,180.8 591.5,182.9 595.5,185.9 599.5,189.2 603.5,191.4 607.5,193.1 611.5,194.6 615.5,196.4 619.5,197.9 623.5,199.0 627.5,199.4 631.5,199.3 635.5,200.3 639.5,201.5 643.5,203.0 647.5,204.3 651.5,205.8 655.5,206.2 659.5,207.5 663.5,208.3 667.5,209.6 671.5,211.6 675.5,213.2 679.5,213.7 683.5,213.9 687.5,214.4 691.5,215.6 695.5,216.3 699.5,216.7 703.5,216.5 707.5,215.1 711.5,213.2 715.5,211.0 719.5,209.0 723.5,207.4 727.5,205.9 731.5,204.2 735.5,202.5 739.5,200.0 743.5,197.9 747.5,195.7 751.5,194.1 755.5,192.2 759.5,190.2 763.5,188.8 767.5,187.0 771.5,185.4 775.5,183.9 779.5,182.4 783.5,181.0 787.5,178.7 791.5,176.7 795.5,175.5 799.5,173.3 803.5,170.8 807.5,168.3 811.5,165.2 815.5,162.2 819.5,158.6 823.5,155.5 827.5,153.1 831.5,150.6 835.5,148.3 839.5,146.4 843.5,145.0 847.5,143.3 851.5,142.7 855.5,141.7 859.5,140.3 863.5,139.5 867.5,139.1 871.5,138.3 875.5,137.9 879.5,137.2 883.5,136.8 887.5,136.9 891.5,136.7 895.5,136.4 899.5,136.3 903.5,136.0 907.5,135.9 911.5,135.2 915.5,134.6 919.5,133.5 923.5,133.7 927.5,134.0 931.5,133.9 935.5,134.1 939.5,134.5 943.5,135.0 947.5,135.6 951.5,136.2 955.5,136.7 959.5,137.4 963.5,137.5 967.5,137.6 971.5,137.6 975.5,137.6 979.5,137.2 983.5,137.1 987.5,137.5 991.5,137.7 995.5,137.8 999.5,136.9 1003.5,136.3 1007.5,136.0 1011.5,135.6 1015.5,134.8 1019.5,133.0 1023.5,131.0 1027.5,129.3 1031.5,127.3 1035.5,124.7 1039.5,120.8 1043.5,118.8 1047.5,116.6 1051.5,113.8 1055.5,110.5 1059.5,107.6 1063.5,105.2 1067.5,103.0 1071.5,101.0 1075.5,99.2 1079.5,97.6 1083.5,96.0 1087.5,93.7 1091.5,91.8 1095.5,90.3 1099.5,88.5 1103.5,86.6"/>
<polyline fill="none" stroke="#ff0000" stroke-width="1" shape-rendering="crispEdges" points="-4.5,242.3 -0.5,239.0 3.5,235.9 7.5,233.2 11.5,230.0 15.5,227.0 19.5,223.1 23.5,219.1 27.5,215.1 31.5,211.2 35.5,207.2 39.5,203.0 43.5,198.3 47.5,194.4 51.5,189.7 55.5,185.0 59.5,179.2 63.5,172.7 67.5,166.8 71.5,159.6 75.5,153.3 79.5,148.8 83.5,145.9 87.5,142.4 91.5,138.7 95.5,135.9 99.5,132.8 103.5,129.0 107.5,124.2 111.5,119.4 115.5,114.9 119.5,111.2 123.5,109.2 127.5,109.6 131.5,111.7 135.5,113.5 139.5,116.5 143.5,118.2 147.5,121.8 151.5,125.4 155.5,129.2 159.5,132.3 163.5,136.1 167.5,138.8 171.5,141.2 175.5,143.0 179.5,145.0 183.5,147.3 187.5,149.9 191.5,152.8 195.5,156.9 199.5,159.8 203.5,162.7 207.5,165.4 211.5,168.8 215.5,172.0 219.5,176.0 223.5,180.2 227.5,184.4 231.5,189.1 235.5,192.8 239.5,197.5 243.5,203.8 247.5,209.2 251.5,213.9 255.5,218.9 259.5,223.3 263.5,227.9 267.5,230.6 271.5,233.3 275.5,236.1 279.5,240.4 283.5,243.8 287.5,246.5 291.5,248.0 295.5,249.5 299.5,250.6 303.5,251.2 307.5,251.8 311.5,252.8 315.5,253.4 319.5,253.9 323.5,255.0 327.5,255.7 331.5,256.3 335.5,256.5 339.5,257.1 343.5,256.9 347.5,257.1 351.5,257.3 355.5,257.9 359.5,258.3 363.5,258.5 367.5,259.6 371.5,261.1 375.5,262.8 379.5,264.0 383.5,264.7 387.5,265.5 391.5,265.9 395.5,266.1 399.5,266.3 403.5,266.4 407.5,266.1 411.5,265.4 415.5,265.2 419.5,265.3 423.5,265.6 427.5,265.4 431.5,264.9 435.5,264.5 439.5,264.4 443.5,264.1 447.5,263.8 451.5,262.4 455.5,260.4 459.5,258.4 463.5,256.4 467.5,253.8 471.5,251.1 475.5,247.9 479.5,245.0 483.5,241.7 487.5,238.9 491.5,236.3 495.5,233.4 499.5,230.5 503.5,227.8 507.5,224.8 511.5,221.6 515.5,216.5 519.5,211.8 523.5,207.5 527.5,203.0 531.5,198.2 535.5,194.4 539.5,191.8 543.5,189.0 547.5,185.2 551.5,182.4 555.5,179.9 559.5,179.8 563.5,179.3 567.5,179.3 571.5,179.5 575.5,180.2 579.5,180.9 583.5,181.5 587.5,182.5 591.5,184.0 595.5,186.4 599.5,189.1 603.5,190.8 607.5,192.0 611.5,193.2 615.5,194.7 619.5,196.0 623.5,196.9 627.5,197.3 631.5,197.3 635.5,198.3 639.5,199.4 643.5,200.8 647.5,202.0 651.5,203.4 655.5,203.7 659.5,205.0 663.5,205.7 667.5,206.9 671.5,208.7 675.5,210.3 679.5,211.0 683.5,211.4 687.5,212.1 691.5,213.5 695.5,214.5 699.5,215.1 703.5,215.2 707.5,214.2 711.5,212.9 715.5,211.1 719.5,209.5 723.5,208.1 727.5,206.9 731.5,205.2 735.5,203.7 739.5,201.4 743.5,199.5 747.5,197.4 751.5,195.8 755.5,194.0 759.5,192.0 763.5,190.5 767.5,188.8 771.5,187.2 775.5,185.8 779.5,184.3 783.5,183.1 787.5,181.0 791.5,179.2 795.5,178.2 799.5,176.2 803.5,174.0 807.5,171.6 811.5,168.8 815.5,165.9 819.5,162.5 823.5,159.5 827.5,157.0 831.5,154.4 835.5,152.0 839.5,150.0 843.5,148.4 847.5,146.6 851.5,145.6 855.5,144.5 859.5,142.9 863.5,142.0 867.5,141.3 871.5,140.5 875.5,140.0 879.5,139.3 883.5,138.8 887.5,138.7 891.5,138.3 895.5,138.0 899.5,137.7 903.5,137.3 907.5,137.1 911.5,136.3 915.5,135.7 919.5,134.5 923.5,134.6 927.5,134.7 931.5,134.4 935.5,134.4 939.5,134.6 943.5,134.9 947.5,135.2 951.5,135.6 955.5,135.9 959.5,136.5 963.5,136.5 967.5,136.5 971.5,136.6 975.5,136.7 979.5,136.5 983.5,136.5 987.5,136.9 991.5,137.1 995.5,137.3 999.5,136.5 1003.5,135.9 1007.5,135.6 1011.5,135.3 1015.5,134.7 1019.5,133.1 1023.5,131.2 1027.5,129.8 1031.5,128.1 1035.5,125.8 1039.5,122.3 1043.5,120.5 1047.5,118.5 1051.5,116.0 1055.5,113.0 1059.5,110.4 1063.5,108.2 1067.5,106.3 1071.5,104.5 1075.5,102.8 1079.5,101.3 1083.5,99.8 1087.5,97.5 1091.5,95.7 1095.5,94.1 1099.5,92.2 1103.5,90.2"/>
<polyline fill="none" stroke="#191970" stroke-width="4.5" stroke-linejoin="round" stroke-linecap="round" points="-4.5,248.3 -0.5,245.4 3.5,242.7 7.5,240.3 11.5,237.5 15.5,234.9 19.5,231.4 23.5,227.8 27.5,224.1 31.5,220.4 35.5,216.7 39.5,212.7 43.5,208.2 47.5,204.4 51.5,199.7 55.5,195.2 59.5,189.6 63.5,183.5 67.5,177.8 71.5,170.9 75.5,164.7 79.5,160.1 83.5,156.8 87.5,153.0 91.5,149.0 95.5,145.8 99.5,142.5 103.5,138.6 107.5,133.9 111.5,129.2 115.5,124.7 119.5,120.9 123.5,118.4 127.5,118.0 131.5,119.1 135.5,119.9 139.5,121.8 143.5,122.7 147.5,125.3 151.5,127.9 155.5,130.8 159.5,133.1 163.5,136.0 167.5,138.1 171.5,139.8 175.5,141.1 179.5,142.6 183.5,144.4 187.5,146.4 191.5,148.8 195.5,152.3 199.5,154.8 203.5,157.4 207.5,159.9 211.5,163.0 215.5,165.8 219.5,169.3 223.5,172.9 227.5,176.5 231.5,180.6 235.5,183.8 239.5,188.1 243.5,194.0 247.5,199.1 251.5,203.9 255.5,209.0 259.5,213.6 263.5,218.4 267.5,221.4 271.5,224.5 275.5,227.6 279.5,231.9 283.5,235.6 287.5,238.6 291.5,240.8 295.5,242.9 299.5,244.7 303.5,245.9 307.5,247.0 311.5,248.4 315.5,249.2 319.5,250.0 323.5,251.2 327.5,252.0 331.5,252.8 335.5,253.1 339.5,253.8 343.5,253.8 347.5,254.1 351.5,254.5 355.5,255.3 359.5,256.0 363.5,256.4 367.5,257.7 371.5,259.2 375.5,261.0 379.5,262.4 383.5,263.4 387.5,264.5 391.5,265.2 395.5,265.7 399.5,266.2 403.5,266.4 407.5,266.3 411.5,265.8 415.5,265.6 419.5,265.6 423.5,265.7 427.5,265.5 431.5,265.0 435.5,264.4 439.5,264.3 443.5,264.0 447.5,263.9 451.5,262.7 455.5,260.9 459.5,259.3 463.5,257.6 467.5,255.4 471.5,253.1 475.5,250.4 479.5,248.1 483.5,245.3 487.5,242.9 491.5,240.8 495.5,238.2 499.5,235.6 503.5,233.1 507.5,230.3 511.5,227.3 515.5,222.6 519.5,218.3 523.5,214.3 527.5,210.1 531.5,205.7 535.5,202.2 539.5,199.7 543.5,196.9 547.5,193.2 551.5,190.3 555.5,187.6 559.5,187.0 563.5,186.0 567.5,185.5 571.5,185.1 575.5,185.3 579.5,185.5 583.5,185.6 587.5,186.1 591.5,187.0 595.5,188.7 599.5,190.6 603.5,191.7 607.5,192.4 611.5,193.2 615.5,194.2 619.5,195.1 623.5,195.7 627.5,195.9 631.5,195.7 635.5,196.5 639.5,197.3 643.5,198.5 647.5,199.5 651.5,200.6 655.5,200.9 659.5,202.0 663.5,202.6 667.5,203.6 671.5,205.2 675.5,206.6 679.5,207.2 683.5,207.6 687.5,208.3 691.5,209.6 695.5,210.7 699.5,211.5 703.5,211.9 707.5,211.5 711.5,210.8 715.5,209.7 719.5,208.6 723.5,207.8 727.5,207.0 731.5,205.8 735.5,204.6 739.5,202.8 743.5,201.2 747.5,199.3 751.5,197.9 755.5,196.3 759.5,194.5 763.5,193.1 767.5,191.5 771.5,189.9 775.5,188.5 779.5,187.1 783.5,185.8 787.5,184.0 791.5,182.3 795.5,181.4 799.5,179.8 803.5,177.9 807.5,175.8 811.5,173.4 815.5,170.8 819.5,167.7 823.5,165.0 827.5,162.5 831.5,159.9 835.5,157.5 839.5,155.3 843.5,153.6 847.5,151.6 851.5,150.4 855.5,149.1 859.5,147.4 863.5,146.3 867.5,145.5 871.5,144.4 875.5,143.7 879.5,142.7 883.5,142.0 887.5,141.6 891.5,141.1 895.5,140.5 899.5,140.1 903.5,139.6 907.5,139.2 911.5,138.4 915.5,137.8 919.5,136.6 923.5,136.5 927.5,136.3 931.5,135.9 935.5,135.6 939.5,135.5 943.5,135.4 947.5,135.4 951.5,135.5 955.5,135.5 959.5,135.8 963.5,135.6 967.5,135.6 971.5,135.6 975.5,135.6 979.5,135.4 983.5,135.4 987.5,135.8 991.5,136.0 995.5,136.1 999.5,135.5 1003.5,135.1 1007.5,134.9 1011.5,134.7 1015.5,134.2 1019.5,132.9 1023.5,131.4 1027.5,130.2 1031.5,128.8 1035.5,126.9 1039.5,124.0 1043.5,122.4 1047.5,120.8 1051.5,118.7 1055.5,116.2 1059.5,114.0 1063.5,112.1 1067.5,110.5 1071.5,108.9 1075.5,107.4 1079.5,105.9 1083.5,104.5 1087.5,102.4 1091.5,100.6 1095.5,99.0 1099.5,97.2 1103.5,95.3"/>
</g>
<polyline fill="none" stroke="#ff0000" stroke-width="2" stroke-linejoin="round" shape-rendering="crispEdges" points="0.5,168.5 67.5,33.5 83.5,147.5 111.5,32.5 243.5,322.5 307.5,230.5 367.5,297.5 535.5,112.5 603.5,256.5 635.5,178.5 675.5,243.5 823.5,101.5 851.5,161.5 921.5,104.5 959.5,156.5 1039.5,49.5"/>
<g shape-rendering="crispEdges">
<rect x="0" y="20" width="1184" height="2" fill="#ff0000"/>
<rect x="0" y="31" width="1184" height="1" fill="#ff0000"/>
<rect x="0" y="67" width="1184" height="1" fill="#4169e1"/>
<rect x="0" y="112" width="1184" height="1" fill="#ff0000"/>
<rect x="0" y="123" width="1184" height="2" fill="#ff0000"/>
</g>
<g shape-rendering="crispEdges"><rect x="-1" y="170" width="1" height="21" fill="#2f4f4f"/><rect x="-2" y="176" width="3" height="10" fill="#2f4f4f"/><rect x="-1" y="177" width="1" height="8" fill="#90ee90"/><rect x="3" y="171" width="1" height="33" fill="#8b0000"/><rect x="2" y="181" width="3" height="6" fill="#8b0000"/><rect x="3" y="182" width="1" height="4" fill="#ff0000"/><rect x="7" y="171" width="1" height="29" fill="#2f4f4f"/><rect x="6" y="181" width="3" height="3" fill="#2f4f4f"/><rect x="7" y="182" width="1" height="1" fill="#90ee90"/><rect x="11" y="165" width="1" height="20" fill="#8b0000"/><rect x="10" y="170" width="3" height="15" fill="#8b0000"/><rect x="11" y="171" width="1" height="13" fill="#ff0000"/><rect x="15" y="167" width="1" height="12" fill="#2f4f4f"/><rect x="14" y="169" width="3" height="5" fill="#2f4f4f"/><rect x="15" y="170" width="1" height="3" fill="#90ee90"/><rect x="19" y="147" width="1" height="28" fill="#8b0000"/><rect x="18" y="150" width="3" height="25" fill="#8b0000"/><rect x="19" y="151" width="1" height="23" fill="#ff0000"/><rect x="23" y="143" width="1" height="16" fill="#8b0000"/><rect x="22" y="147" width="3" height="5" fill="#8b0000"/><rect x="23" y="148" width="1" height="3" fill="#ff0000"/><rect x="27" y="128" width="1" height="33" fill="#8b0000"/><rect x="26" y="143" width="3" height="5" fill="#8b0000"/><rect x="27" y="144" width="1" height="3" fill="#ff0000"/><rect x="31" y="135" width="1" height="20" fill="#2f4f4f"/><rect x="30" y="143" width="3" height="2" fill="#2f4f4f"/><rect x="35" y="132" width="1" height="20" fill="#8b0000"/><rect x="34" y="140" width="3" height="4" fill="#8b0000"/><rect x="35" y="141" width="1" height="2" fill="#ff0000"/><rect x="39" y="131" width="1" height="16" fill="#8b0000"/><rect x="38" y="134" width="3" height="7" fill="#8b0000"/><rect x="39" y="135" width="1" height="5" fill="#ff0000"/><rect x="43" y="119" width="1" height="21" fill="#8b0000"/><rect x="42" y="121" width="3" height="11" fill="#8b0000"/><rect x="43" y="122" width="1" height="9" fill="#ff0000"/><rect x="47" y="114" width="1" height="23" fill="#2f4f4f"/><rect x="46" y="121" width="3" height="16" fill="#2f4f4f"/><rect x="47" y="122" width="1" height="14" fill="#90ee90"/><rect x="51" y="114" width="1" height="24" fill="#8b0000"/><rect x="50" y="115" width="3" height="22" fill="#8b0000"/><rect x="51" y="116" width="1" height="20" fill="#ff0000"/><rect x="55" y="104" width="1" height="14" fill="#8b0000"/><rect x="54" y="113" width="3" height="5" fill="#8b0000"/><rect x="55" y="114" width="1" height="3" fill="#ff0000"/><rect x="59" y="81" width="1" height="32" fill="#8b0000"/><rect x="58" y="84" width="3" height="29" fill="#8b0000"/><rect x="59" y="85" width="1" height="27" fill="#ff0000"/><rect x="63" y="62" width="1" height="23" fill="#8b0000"/><rect x="62" y="65" width="3" height="20" fill="#8b0000"/><rect x="63" y="66" width="1" height="18" fill="#ff0000"/><rect x="67" y="33" width="1" height="60" fill="#2f4f4f"/><rect x="66" y="58" width="3" height="15" fill="#2f4f4f"/><rect x="67" y="59" width="1" height="13" fill="#90ee90"/><rect x="71" y="34" width="1" height="39" fill="#8b0000"/><rect x="70" y="41" width="3" height="32" fill="#8b0000"/><rect x="71" y="42" width="1" height="30" fill="#ff0000"/><rect x="75" y="39" width="1" height="37" fill="#2f4f4f"/><rect x="74" y="41" width="3" height="17" fill="#2f4f4f"/><rect x="75" y="42" width="1" height="15" fill="#90ee90"/><rect x="79" y="55" width="1" height="50" fill="#2f4f4f"/><rect x="78" y="56" width="3" height="40" fill="#2f4f4f"/><rect x="79" y="57" width="1" height="38" fill="#90ee90"/><rect x="83" y="94" width="1" height="54" fill="#2f4f4f"/><rect x="82" y="95" width="3" height="32" fill="#2f4f4f"/><rect x="83" y="96" width="1" height="30" fill="#90ee90"/><rect x="87" y="108" width="1" height="24" fill="#8b0000"/><rect x="86" y="111" width="3" height="17" fill="#8b0000"/><rect x="87" y="112" width="1" height="15" fill="#ff0000"/><rect x="91" y="97" width="1" height="33" fill="#2f4f4f"/><rect x="90" y="100" width="3" height="3" fill="#2f4f4f"/><rect x="91" y="101" width="1" height="1" fill="#90ee90"/><rect x="95" y="98" width="1" height="19" fill="#2f4f4f"/><rect x="94" y="103" width="3" height="13" fill="#2f4f4f"/><rect x="95" y="104" width="1" height="11" fill="#90ee90"/><rect x="99" y="100" width="1" height="27" fill="#8b0000"/><rect x="98" y="103" width="3" height="13" fill="#8b0000"/><rect x="99" y="104" width="1" height="11" fill="#ff0000"/><rect x="103" y="70" width="1" height="35" fill="#8b0000"/><rect x="102" y="80" width="3" height="24" fill="#8b0000"/><rect x="103" y="81" width="1" height="22" fill="#ff0000"/><rect x="107" y="49" width="1" height="33" fill="#8b0000"/><rect x="106" y="52" width="3" height="30" fill="#8b0000"/><rect x="107" y="53" width="1" height="28" fill="#ff0000"/><rect x="111" y="32" width="1" height="22" fill="#8b0000"/><rect x="110" y="47" width="3" height="7" fill="#8b0000"/><rect x="111" y="48" width="1" height="5" fill="#ff0000"/><rect x="115" y="36" width="1" height="27" fill="#2f4f4f"/><rect x="114" y="42" width="3" height="10" fill="#2f4f4f"/><rect x="115" y="43" width="1" height="8" fill="#90ee90"/><rect x="119" y="47" width="1" height="20" fill="#2f4f4f"/><rect x="118" y="50" width="3" height="17" fill="#2f4f4f"/><rect x="119" y="51" width="1" height="15" fill="#90ee90"/><rect x="123" y="55" width="1" height="59" fill="#2f4f4f"/><rect x="122" y="66" width="3" height="36" fill="#2f4f4f"/><rect x="123" y="67" width="1" height="34" fill="#90ee90"/><rect x="127" y="97" width="1" height="63" fill="#2f4f4f"/><rect x="126" y="100" width="3" height="56" fill="#2f4f4f"/><rect x="127" y="101" width="1" height="54" fill="#90ee90"/><rect x="131" y="150" width="1" height="61" fill="#2f4f4f"/><rect x="130" y="155" width="3" height="37" fill="#2f4f4f"/><rect x="131" y="156" width="1" height="35" fill="#90ee90"/><rect x="135" y="179" width="1" height="19" fill="#8b0000"/><rect x="134" y="183" width="3" height="9" fill="#8b0000"/><rect x="135" y="184" width="1" height="7" fill="#ff0000"/><rect x="139" y="180" width="1" height="73" fill="#2f4f4f"/><rect x="138" y="184" width="3" height="23" fill="#2f4f4f"/><rect x="139" y="185" width="1" height="21" fill="#90ee90"/><rect x="143" y="171" width="1" height="36" fill="#8b0000"/><rect x="142" y="177" width="3" height="30" fill="#8b0000"/><rect x="143" y="178" width="1" height="28" fill="#ff0000"/><rect x="147" y="161" width="1" height="63" fill="#2f4f4f"/><rect x="146" y="177" width="3" height="39" fill="#2f4f4f"/><rect x="147" y="178" width="1" height="37" fill="#90ee90"/><rect x="151" y="203" width="1" height="45" fill="#8b0000"/><rect x="150" y="212" width="3" height="4" fill="#8b0000"/><rect x="151" y="213" width="1" height="2" fill="#ff0000"/><rect x="155" y="206" width="1" height="45" fill="#2f4f4f"/><rect x="154" y="212" width="3" height="4" fill="#2f4f4f"/><rect x="155" y="213" width="1" height="2" fill="#90ee90"/><rect x="159" y="191" width="1" height="26" fill="#8b0000"/><rect x="158" y="199" width="3" height="18" fill="#8b0000"/><rect x="159" y="200" width="1" height="16" fill="#ff0000"/><rect x="163" y="188" width="1" height="31" fill="#2f4f4f"/><rect x="162" y="191" width="3" height="23" fill="#2f4f4f"/><rect x="163" y="192" width="1" height="21" fill="#90ee90"/><rect x="167" y="188" width="1" height="27" fill="#8b0000"/><rect x="166" y="191" width="3" height="24" fill="#8b0000"/><rect x="167" y="192" width="1" height="22" fill="#ff0000"/><rect x="171" y="175" width="1" height="28" fill="#8b0000"/><rect x="170" y="183" width="3" height="9" fill="#8b0000"/><rect x="171" y="184" width="1" height="7" fill="#ff0000"/><rect x="175" y="168" width="1" height="30" fill="#8b0000"/><rect x="174" y="171" width="3" height="13" fill="#8b0000"/><rect x="175" y="172" width="1" height="11" fill="#ff0000"/><rect x="179" y="165" width="1" height="12" fill="#2f4f4f"/><rect x="178" y="172" width="3" height="4" fill="#2f4f4f"/><rect x="179" y="173" width="1" height="2" fill="#90ee90"/><rect x="183" y="172" width="1" height="21" fill="#2f4f4f"/><rect x="182" y="175" width="3" height="9" fill="#2f4f4f"/><rect x="183" y="176" width="1" height="7" fill="#90ee90"/><rect x="187" y="171" width="1" height="24" fill="#2f4f4f"/><rect x="186" y="183" width="3" height="6" fill="#2f4f4f"/><rect x="187" y="184" width="1" height="4" fill="#90ee90"/><rect x="191" y="185" width="1" height="12" fill="#2f4f4f"/><rect x="190" y="187" width="3" height="9" fill="#2f4f4f"/><rect x="191" y="188" width="1" height="7" fill="#90ee90"/><rect x="195" y="193" width="1" height="36" fill="#2f4f4f"/><rect x="194" y="195" width="3" height="27" fill="#2f4f4f"/><rect x="195" y="196" width="1" height="25" fill="#90ee90"/><rect x="199" y="184" width="1" height="43" fill="#8b0000"/><rect x="198" y="194" width="3" height="27" fill="#8b0000"/><rect x="199" y="195" width="1" height="25" fill="#ff0000"/><rect x="203" y="176" width="1" height="25" fill="#8b0000"/><rect x="202" y="193" width="3" height="3" fill="#8b0000"/><rect x="203" y="194" width="1" height="1" fill="#ff0000"/><rect x="207" y="187" width="1" height="13" fill="#8b0000"/><rect x="206" y="190" width="3" height="5" fill="#8b0000"/><rect x="207" y="191" width="1" height="3" fill="#ff0000"/><rect x="211" y="192" width="1" height="32" fill="#2f4f4f"/><rect x="210" y="207" width="3" height="3" fill="#2f4f4f"/><rect x="211" y="208" width="1" height="1" fill="#90ee90"/><rect x="215" y="200" width="1" height="26" fill="#2f4f4f"/><rect x="214" y="208" width="3" height="2" fill="#2f4f4f"/><rect x="219" y="205" width="1" height="38" fill="#2f4f4f"/><rect x="218" y="208" width="3" height="26" fill="#2f4f4f"/><rect x="219" y="209" width="1" height="24" fill="#90ee90"/><rect x="223" y="228" width="1" height="22" fill="#2f4f4f"/><rect x="222" y="233" width="3" height="12" fill="#2f4f4f"/><rect x="223" y="234" width="1" height="10" fill="#90ee90"/><rect x="227" y="240" width="1" height="34" fill="#2f4f4f"/><rect x="226" y="244" width="3" height="9" fill="#2f4f4f"/><rect x="227" y="245" width="1" height="7" fill="#90ee90"/><rect x="231" y="249" width="1" height="20" fill="#2f4f4f"/><rect x="230" y="252" width="3" height="17" fill="#2f4f4f"/><rect x="231" y="253" width="1" height="15" fill="#90ee90"/><rect x="235" y="245" width="1" height="29" fill="#8b0000"/><rect x="234" y="250" width="3" height="14" fill="#8b0000"/><rect x="235" y="251" width="1" height="12" fill="#ff0000"/><rect x="239" y="248" width="1" height="33" fill="#2f4f4f"/><rect x="238" y="250" width="3" height="27" fill="#2f4f4f"/><rect x="239" y="251" width="1" height="25" fill="#90ee90"/><rect x="243" y="272" width="1" height="52" fill="#2f4f4f"/><rect x="242" y="276" width="3" height="37" fill="#2f4f4f"/><rect x="243" y="277" width="1" height="35" fill="#90ee90"/><rect x="247" y="288" width="1" height="28" fill="#8b0000"/><rect x="246" y="292" width="3" height="22" fill="#8b0000"/><rect x="247" y="293" width="1" height="20" fill="#ff0000"/><rect x="251" y="274" width="1" height="20" fill="#8b0000"/><rect x="250" y="278" width="3" height="15" fill="#8b0000"/><rect x="251" y="279" width="1" height="13" fill="#ff0000"/><rect x="255" y="276" width="1" height="14" fill="#2f4f4f"/><rect x="254" y="278" width="3" height="7" fill="#2f4f4f"/><rect x="255" y="279" width="1" height="5" fill="#90ee90"/><rect x="259" y="267" width="1" height="40" fill="#8b0000"/><rect x="258" y="272" width="3" height="12" fill="#8b0000"/><rect x="259" y="273" width="1" height="10" fill="#ff0000"/><rect x="263" y="270" width="1" height="20" fill="#2f4f4f"/><rect x="262" y="272" width="3" height="7" fill="#2f4f4f"/><rect x="263" y="273" width="1" height="5" fill="#90ee90"/><rect x="267" y="239" width="1" height="41" fill="#8b0000"/><rect x="266" y="241" width="3" height="39" fill="#8b0000"/><rect x="267" y="242" width="1" height="37" fill="#ff0000"/><rect x="271" y="240" width="1" height="18" fill="#2f4f4f"/><rect x="270" y="243" width="3" height="7" fill="#2f4f4f"/><rect x="271" y="244" width="1" height="5" fill="#90ee90"/><rect x="275" y="244" width="1" height="22" fill="#2f4f4f"/><rect x="274" y="249" width="3" height="11" fill="#2f4f4f"/><rect x="275" y="250" width="1" height="9" fill="#90ee90"/><rect x="279" y="252" width="1" height="48" fill="#2f4f4f"/><rect x="278" y="259" width="3" height="40" fill="#2f4f4f"/><rect x="279" y="260" width="1" height="38" fill="#90ee90"/><rect x="283" y="276" width="1" height="30" fill="#8b0000"/><rect x="282" y="287" width="3" height="16" fill="#8b0000"/><rect x="283" y="288" width="1" height="14" fill="#ff0000"/><rect x="287" y="266" width="1" height="41" fill="#8b0000"/><rect x="286" y="277" width="3" height="11" fill="#8b0000"/><rect x="287" y="278" width="1" height="9" fill="#ff0000"/><rect x="291" y="249" width="1" height="34" fill="#8b0000"/><rect x="290" y="257" width="3" height="21" fill="#8b0000"/><rect x="291" y="258" width="1" height="19" fill="#ff0000"/><rect x="295" y="255" width="1" height="26" fill="#2f4f4f"/><rect x="294" y="257" width="3" height="3" fill="#2f4f4f"/><rect x="295" y="258" width="1" height="1" fill="#90ee90"/><rect x="299" y="246" width="1" height="19" fill="#8b0000"/><rect x="298" y="254" width="3" height="6" fill="#8b0000"/><rect x="299" y="255" width="1" height="4" fill="#ff0000"/><rect x="303" y="240" width="1" height="16" fill="#8b0000"/><rect x="302" y="242" width="3" height="14" fill="#8b0000"/><rect x="303" y="243" width="1" height="12" fill="#ff0000"/><rect x="307" y="229" width="1" height="21" fill="#2f4f4f"/><rect x="306" y="244" width="3" height="2" fill="#2f4f4f"/><rect x="311" y="244" width="1" height="20" fill="#2f4f4f"/><rect x="310" y="246" width="3" height="8" fill="#2f4f4f"/><rect x="311" y="247" width="1" height="6" fill="#90ee90"/><rect x="315" y="240" width="1" height="19" fill="#8b0000"/><rect x="314" y="247" width="3" height="7" fill="#8b0000"/><rect x="315" y="248" width="1" height="5" fill="#ff0000"/><rect x="319" y="235" width="1" height="20" fill="#8b0000"/><rect x="318" y="248" width="3" height="5" fill="#8b0000"/><rect x="319" y="249" width="1" height="3" fill="#ff0000"/><rect x="323" y="240" width="1" height="33" fill="#2f4f4f"/><rect x="322" y="248" width="3" height="12" fill="#2f4f4f"/><rect x="323" y="249" width="1" height="10" fill="#90ee90"/><rect x="327" y="250" width="1" height="11" fill="#8b0000"/><rect x="326" y="253" width="3" height="8" fill="#8b0000"/><rect x="327" y="254" width="1" height="6" fill="#ff0000"/><rect x="331" y="252" width="1" height="29" fill="#8b0000"/><rect x="330" y="253" width="3" height="8" fill="#8b0000"/><rect x="331" y="254" width="1" height="6" fill="#ff0000"/><rect x="335" y="244" width="1" height="12" fill="#8b0000"/><rect x="334" y="246" width="3" height="10" fill="#8b0000"/><rect x="335" y="247" width="1" height="8" fill="#ff0000"/><rect x="339" y="240" width="1" height="18" fill="#2f4f4f"/><rect x="338" y="246" width="3" height="11" fill="#2f4f4f"/><rect x="339" y="247" width="1" height="9" fill="#90ee90"/><rect x="343" y="241" width="1" height="19" fill="#8b0000"/><rect x="342" y="242" width="3" height="15" fill="#8b0000"/><rect x="343" y="243" width="1" height="13" fill="#ff0000"/><rect x="347" y="238" width="1" height="23" fill="#2f4f4f"/><rect x="346" y="243" width="3" height="10" fill="#2f4f4f"/><rect x="347" y="244" width="1" height="8" fill="#90ee90"/><rect x="351" y="247" width="1" height="9" fill="#2f4f4f"/><rect x="350" y="253" width="3" height="3" fill="#2f4f4f"/><rect x="351" y="254" width="1" height="1" fill="#90ee90"/><rect x="355" y="252" width="1" height="20" fill="#2f4f4f"/><rect x="354" y="253" width="3" height="14" fill="#2f4f4f"/><rect x="355" y="254" width="1" height="12" fill="#90ee90"/><rect x="359" y="257" width="1" height="20" fill="#2f4f4f"/><rect x="358" y="264" width="3" height="2" fill="#2f4f4f"/><rect x="363" y="256" width="1" height="13" fill="#8b0000"/><rect x="362" y="260" width="3" height="6" fill="#8b0000"/><rect x="363" y="261" width="1" height="4" fill="#ff0000"/><rect x="367" y="257" width="1" height="42" fill="#2f4f4f"/><rect x="366" y="260" width="3" height="23" fill="#2f4f4f"/><rect x="367" y="261" width="1" height="21" fill="#90ee90"/><rect x="371" y="271" width="1" height="26" fill="#2f4f4f"/><rect x="370" y="280" width="3" height="10" fill="#2f4f4f"/><rect x="371" y="281" width="1" height="8" fill="#90ee90"/><rect x="375" y="289" width="1" height="9" fill="#2f4f4f"/><rect x="374" y="293" width="3" height="5" fill="#2f4f4f"/><rect x="375" y="294" width="1" height="3" fill="#90ee90"/><rect x="379" y="280" width="1" height="19" fill="#8b0000"/><rect x="378" y="285" width="3" height="9" fill="#8b0000"/><rect x="379" y="286" width="1" height="7" fill="#ff0000"/><rect x="383" y="270" width="1" height="15" fill="#8b0000"/><rect x="382" y="276" width="3" height="12" fill="#8b0000"/><rect x="383" y="277" width="1" height="10" fill="#ff0000"/><rect x="387" y="264" width="1" height="17" fill="#2f4f4f"/><rect x="386" y="276" width="3" height="2" fill="#2f4f4f"/><rect x="391" y="266" width="1" height="16" fill="#8b0000"/><rect x="390" y="269" width="3" height="9" fill="#8b0000"/><rect x="391" y="270" width="1" height="7" fill="#ff0000"/><rect x="395" y="262" width="1" height="12" fill="#8b0000"/><rect x="394" y="267" width="3" height="7" fill="#8b0000"/><rect x="395" y="268" width="1" height="5" fill="#ff0000"/><rect x="399" y="263" width="1" height="7" fill="#2f4f4f"/><rect x="398" y="267" width="3" height="3" fill="#2f4f4f"/><rect x="399" y="268" width="1" height="1" fill="#90ee90"/><rect x="403" y="263" width="1" height="15" fill="#8b0000"/><rect x="402" y="266" width="3" height="10" fill="#8b0000"/><rect x="403" y="267" width="1" height="8" fill="#ff0000"/><rect x="407" y="259" width="1" height="10" fill="#8b0000"/><rect x="406" y="261" width="3" height="7" fill="#8b0000"/><rect x="407" y="262" width="1" height="5" fill="#ff0000"/><rect x="411" y="247" width="1" height="16" fill="#8b0000"/><rect x="410" y="251" width="3" height="11" fill="#8b0000"/><rect x="411" y="252" width="1" height="9" fill="#ff0000"/><rect x="415" y="245" width="1" height="18" fill="#2f4f4f"/><rect x="414" y="251" width="3" height="11" fill="#2f4f4f"/><rect x="415" y="252" width="1" height="9" fill="#90ee90"/><rect x="419" y="258" width="1" height="20" fill="#2f4f4f"/><rect x="418" y="261" width="3" height="6" fill="#2f4f4f"/><rect x="419" y="262" width="1" height="4" fill="#90ee90"/><rect x="423" y="260" width="1" height="13" fill="#2f4f4f"/><rect x="422" y="264" width="3" height="7" fill="#2f4f4f"/><rect x="423" y="265" width="1" height="5" fill="#90ee90"/><rect x="427" y="254" width="1" height="17" fill="#8b0000"/><rect x="426" y="260" width="3" height="10" fill="#8b0000"/><rect x="427" y="261" width="1" height="8" fill="#ff0000"/><rect x="431" y="251" width="1" height="16" fill="#8b0000"/><rect x="430" y="252" width="3" height="9" fill="#8b0000"/><rect x="431" y="253" width="1" height="7" fill="#ff0000"/><rect x="435" y="248" width="1" height="8" fill="#8b0000"/><rect x="434" y="252" width="3" height="3" fill="#8b0000"/><rect x="435" y="253" width="1" height="1" fill="#ff0000"/><rect x="439" y="249" width="1" height="18" fill="#2f4f4f"/><rect x="438" y="252" width="3" height="10" fill="#2f4f4f"/><rect x="439" y="253" width="1" height="8" fill="#90ee90"/><rect x="443" y="240" width="1" height="27" fill="#8b0000"/><rect x="442" y="254" width="3" height="8" fill="#8b0000"/><rect x="443" y="255" width="1" height="6" fill="#ff0000"/><rect x="447" y="251" width="1" height="7" fill="#2f4f4f"/><rect x="446" y="253" width="3" height="4" fill="#2f4f4f"/><rect x="447" y="254" width="1" height="2" fill="#90ee90"/><rect x="451" y="224" width="1" height="31" fill="#8b0000"/><rect x="450" y="228" width="3" height="27" fill="#8b0000"/><rect x="451" y="229" width="1" height="25" fill="#ff0000"/><rect x="455" y="210" width="1" height="22" fill="#8b0000"/><rect x="454" y="212" width="3" height="18" fill="#8b0000"/><rect x="455" y="213" width="1" height="16" fill="#ff0000"/><rect x="459" y="207" width="1" height="8" fill="#8b0000"/><rect x="458" y="210" width="3" height="4" fill="#8b0000"/><rect x="459" y="211" width="1" height="2" fill="#ff0000"/><rect x="463" y="195" width="1" height="19" fill="#8b0000"/><rect x="462" y="207" width="3" height="4" fill="#8b0000"/><rect x="463" y="208" width="1" height="2" fill="#ff0000"/><rect x="467" y="188" width="1" height="24" fill="#8b0000"/><rect x="466" y="192" width="3" height="16" fill="#8b0000"/><rect x="467" y="193" width="1" height="14" fill="#ff0000"/><rect x="471" y="186" width="1" height="10" fill="#8b0000"/><rect x="470" y="188" width="3" height="6" fill="#8b0000"/><rect x="471" y="189" width="1" height="4" fill="#ff0000"/><rect x="475" y="173" width="1" height="16" fill="#8b0000"/><rect x="474" y="175" width="3" height="14" fill="#8b0000"/><rect x="475" y="176" width="1" height="12" fill="#ff0000"/><rect x="479" y="169" width="1" height="15" fill="#2f4f4f"/><rect x="478" y="175" width="3" height="7" fill="#2f4f4f"/><rect x="479" y="176" width="1" height="5" fill="#90ee90"/><rect x="483" y="171" width="1" height="13" fill="#8b0000"/><rect x="482" y="173" width="3" height="7" fill="#8b0000"/><rect x="483" y="174" width="1" height="5" fill="#ff0000"/><rect x="487" y="171" width="1" height="13" fill="#2f4f4f"/><rect x="486" y="173" width="3" height="10" fill="#2f4f4f"/><rect x="487" y="174" width="1" height="8" fill="#90ee90"/><rect x="491" y="181" width="1" height="19" fill="#2f4f4f"/><rect x="490" y="183" width="3" height="7" fill="#2f4f4f"/><rect x="491" y="184" width="1" height="5" fill="#90ee90"/><rect x="495" y="179" width="1" height="11" fill="#8b0000"/><rect x="494" y="182" width="3" height="8" fill="#8b0000"/><rect x="495" y="183" width="1" height="6" fill="#ff0000"/><rect x="499" y="172" width="1" height="14" fill="#2f4f4f"/><rect x="498" y="179" width="3" height="5" fill="#2f4f4f"/><rect x="499" y="180" width="1" height="3" fill="#90ee90"/><rect x="503" y="181" width="1" height="18" fill="#2f4f4f"/><rect x="502" y="184" width="3" height="5" fill="#2f4f4f"/><rect x="503" y="185" width="1" height="3" fill="#90ee90"/><rect x="507" y="178" width="1" height="13" fill="#8b0000"/><rect x="506" y="181" width="3" height="7" fill="#8b0000"/><rect x="507" y="182" width="1" height="5" fill="#ff0000"/><rect x="511" y="174" width="1" height="11" fill="#8b0000"/><rect x="510" y="176" width="3" height="6" fill="#8b0000"/><rect x="511" y="177" width="1" height="4" fill="#ff0000"/><rect x="515" y="132" width="1" height="46" fill="#8b0000"/><rect x="514" y="135" width="3" height="43" fill="#8b0000"/><rect x="515" y="136" width="1" height="41" fill="#ff0000"/><rect x="519" y="133" width="1" height="13" fill="#2f4f4f"/><rect x="518" y="135" width="3" height="7" fill="#2f4f4f"/><rect x="519" y="136" width="1" height="5" fill="#90ee90"/><rect x="523" y="133" width="1" height="19" fill="#2f4f4f"/><rect x="522" y="138" width="3" height="8" fill="#2f4f4f"/><rect x="523" y="139" width="1" height="6" fill="#90ee90"/><rect x="527" y="128" width="1" height="18" fill="#8b0000"/><rect x="526" y="134" width="3" height="12" fill="#8b0000"/><rect x="527" y="135" width="1" height="10" fill="#ff0000"/><rect x="531" y="115" width="1" height="19" fill="#8b0000"/><rect x="530" y="125" width="3" height="9" fill="#8b0000"/><rect x="531" y="126" width="1" height="7" fill="#ff0000"/><rect x="535" y="112" width="1" height="38" fill="#2f4f4f"/><rect x="534" y="125" width="3" height="18" fill="#2f4f4f"/><rect x="535" y="126" width="1" height="16" fill="#90ee90"/><rect x="539" y="132" width="1" height="40" fill="#2f4f4f"/><rect x="538" y="142" width="3" height="23" fill="#2f4f4f"/><rect x="539" y="143" width="1" height="21" fill="#90ee90"/><rect x="543" y="151" width="1" height="21" fill="#8b0000"/><rect x="542" y="157" width="3" height="8" fill="#8b0000"/><rect x="543" y="158" width="1" height="6" fill="#ff0000"/><rect x="547" y="133" width="1" height="21" fill="#8b0000"/><rect x="546" y="135" width="3" height="19" fill="#8b0000"/><rect x="547" y="136" width="1" height="17" fill="#ff0000"/><rect x="551" y="132" width="1" height="26" fill="#2f4f4f"/><rect x="550" y="135" width="3" height="19" fill="#2f4f4f"/><rect x="551" y="136" width="1" height="17" fill="#90ee90"/><rect x="555" y="150" width="1" height="14" fill="#2f4f4f"/><rect x="554" y="153" width="3" height="6" fill="#2f4f4f"/><rect x="555" y="154" width="1" height="4" fill="#90ee90"/><rect x="559" y="150" width="1" height="73" fill="#2f4f4f"/><rect x="558" y="158" width="3" height="52" fill="#2f4f4f"/><rect x="559" y="159" width="1" height="50" fill="#90ee90"/><rect x="563" y="191" width="1" height="27" fill="#8b0000"/><rect x="562" y="199" width="3" height="10" fill="#8b0000"/><rect x="563" y="200" width="1" height="8" fill="#ff0000"/><rect x="567" y="197" width="1" height="17" fill="#2f4f4f"/><rect x="566" y="199" width="3" height="9" fill="#2f4f4f"/><rect x="567" y="200" width="1" height="7" fill="#90ee90"/><rect x="571" y="194" width="1" height="21" fill="#8b0000"/><rect x="570" y="208" width="3" height="4" fill="#8b0000"/><rect x="571" y="209" width="1" height="2" fill="#ff0000"/><rect x="575" y="205" width="1" height="24" fill="#2f4f4f"/><rect x="574" y="208" width="3" height="11" fill="#2f4f4f"/><rect x="575" y="209" width="1" height="9" fill="#90ee90"/><rect x="579" y="200" width="1" height="20" fill="#8b0000"/><rect x="578" y="215" width="3" height="4" fill="#8b0000"/><rect x="579" y="216" width="1" height="2" fill="#ff0000"/><rect x="583" y="202" width="1" height="20" fill="#8b0000"/><rect x="582" y="212" width="3" height="4" fill="#8b0000"/><rect x="583" y="213" width="1" height="2" fill="#ff0000"/><rect x="587" y="209" width="1" height="18" fill="#2f4f4f"/><rect x="586" y="212" width="3" height="9" fill="#2f4f4f"/><rect x="587" y="213" width="1" height="7" fill="#90ee90"/><rect x="591" y="218" width="1" height="36" fill="#2f4f4f"/><rect x="590" y="220" width="3" height="10" fill="#2f4f4f"/><rect x="591" y="221" width="1" height="8" fill="#90ee90"/><rect x="595" y="224" width="1" height="24" fill="#2f4f4f"/><rect x="594" y="226" width="3" height="22" fill="#2f4f4f"/><rect x="595" y="227" width="1" height="20" fill="#90ee90"/><rect x="599" y="242" width="1" height="13" fill="#2f4f4f"/><rect x="598" y="246" width="3" height="7" fill="#2f4f4f"/><rect x="599" y="247" width="1" height="5" fill="#90ee90"/><rect x="603" y="230" width="1" height="28" fill="#8b0000"/><rect x="602" y="230" width="3" height="22" fill="#8b0000"/><rect x="603" y="231" width="1" height="20" fill="#ff0000"/><rect x="607" y="208" width="1" height="32" fill="#8b0000"/><rect x="606" y="218" width="3" height="13" fill="#8b0000"/><rect x="607" y="219" width="1" height="11" fill="#ff0000"/><rect x="611" y="212" width="1" height="21" fill="#8b0000"/><rect x="610" y="214" width="3" height="5" fill="#8b0000"/><rect x="611" y="215" width="1" height="3" fill="#ff0000"/><rect x="615" y="208" width="1" height="11" fill="#2f4f4f"/><rect x="614" y="214" width="3" height="5" fill="#2f4f4f"/><rect x="615" y="215" width="1" height="3" fill="#90ee90"/><rect x="619" y="209" width="1" height="16" fill="#8b0000"/><rect x="618" y="212" width="3" height="7" fill="#8b0000"/><rect x="619" y="213" width="1" height="5" fill="#ff0000"/><rect x="623" y="199" width="1" height="20" fill="#8b0000"/><rect x="622" y="203" width="3" height="10" fill="#8b0000"/><rect x="623" y="204" width="1" height="8" fill="#ff0000"/><rect x="627" y="186" width="1" height="25" fill="#8b0000"/><rect x="626" y="192" width="3" height="12" fill="#8b0000"/><rect x="627" y="193" width="1" height="10" fill="#ff0000"/><rect x="631" y="181" width="1" height="18" fill="#8b0000"/><rect x="630" y="181" width="3" height="12" fill="#8b0000"/><rect x="631" y="182" width="1" height="10" fill="#ff0000"/><rect x="635" y="178" width="1" height="47" fill="#2f4f4f"/><rect x="634" y="181" width="3" height="25" fill="#2f4f4f"/><rect x="635" y="182" width="1" height="23" fill="#90ee90"/><rect x="639" y="205" width="1" height="14" fill="#2f4f4f"/><rect x="638" y="205" width="3" height="6" fill="#2f4f4f"/><rect x="639" y="206" width="1" height="4" fill="#90ee90"/><rect x="643" y="193" width="1" height="40" fill="#2f4f4f"/><rect x="642" y="204" width="3" height="14" fill="#2f4f4f"/><rect x="643" y="205" width="1" height="12" fill="#90ee90"/><rect x="647" y="207" width="1" height="16" fill="#8b0000"/><rect x="646" y="216" width="3" height="3" fill="#8b0000"/><rect x="647" y="217" width="1" height="1" fill="#ff0000"/><rect x="651" y="212" width="1" height="22" fill="#2f4f4f"/><rect x="650" y="216" width="3" height="6" fill="#2f4f4f"/><rect x="651" y="217" width="1" height="4" fill="#90ee90"/><rect x="655" y="193" width="1" height="34" fill="#8b0000"/><rect x="654" y="201" width="3" height="21" fill="#8b0000"/><rect x="655" y="202" width="1" height="19" fill="#ff0000"/><rect x="659" y="198" width="1" height="35" fill="#2f4f4f"/><rect x="658" y="201" width="3" height="21" fill="#2f4f4f"/><rect x="659" y="202" width="1" height="19" fill="#90ee90"/><rect x="663" y="206" width="1" height="16" fill="#8b0000"/><rect x="662" y="211" width="3" height="11" fill="#8b0000"/><rect x="663" y="212" width="1" height="9" fill="#ff0000"/><rect x="667" y="205" width="1" height="20" fill="#2f4f4f"/><rect x="666" y="213" width="3" height="11" fill="#2f4f4f"/><rect x="667" y="214" width="1" height="9" fill="#90ee90"/><rect x="671" y="218" width="1" height="22" fill="#2f4f4f"/><rect x="670" y="223" width="3" height="16" fill="#2f4f4f"/><rect x="671" y="224" width="1" height="14" fill="#90ee90"/><rect x="675" y="219" width="1" height="24" fill="#8b0000"/><rect x="674" y="234" width="3" height="5" fill="#8b0000"/><rect x="675" y="235" width="1" height="3" fill="#ff0000"/><rect x="679" y="207" width="1" height="28" fill="#8b0000"/><rect x="678" y="214" width="3" height="21" fill="#8b0000"/><rect x="679" y="215" width="1" height="19" fill="#ff0000"/><rect x="683" y="197" width="1" height="28" fill="#8b0000"/><rect x="682" y="208" width="3" height="7" fill="#8b0000"/><rect x="683" y="209" width="1" height="5" fill="#ff0000"/><rect x="687" y="202" width="1" height="23" fill="#2f4f4f"/><rect x="686" y="208" width="3" height="11" fill="#2f4f4f"/><rect x="687" y="209" width="1" height="9" fill="#90ee90"/><rect x="691" y="211" width="1" height="21" fill="#2f4f4f"/><rect x="690" y="218" width="3" height="14" fill="#2f4f4f"/><rect x="691" y="219" width="1" height="12" fill="#90ee90"/><rect x="695" y="223" width="1" height="11" fill="#8b0000"/><rect x="694" y="225" width="3" height="7" fill="#8b0000"/><rect x="695" y="226" width="1" height="5" fill="#ff0000"/><rect x="699" y="214" width="1" height="13" fill="#8b0000"/><rect x="698" y="218" width="3" height="9" fill="#8b0000"/><rect x="699" y="219" width="1" height="7" fill="#ff0000"/><rect x="703" y="206" width="1" height="15" fill="#8b0000"/><rect x="702" y="208" width="3" height="13" fill="#8b0000"/><rect x="703" y="209" width="1" height="11" fill="#ff0000"/><rect x="707" y="182" width="1" height="28" fill="#8b0000"/><rect x="706" y="185" width="3" height="25" fill="#8b0000"/><rect x="707" y="186" width="1" height="23" fill="#ff0000"/><rect x="711" y="174" width="1" height="16" fill="#8b0000"/><rect x="710" y="177" width="3" height="10" fill="#8b0000"/><rect x="711" y="178" width="1" height="8" fill="#ff0000"/><rect x="715" y="165" width="1" height="20" fill="#8b0000"/><rect x="714" y="168" width="3" height="11" fill="#8b0000"/><rect x="715" y="169" width="1" height="9" fill="#ff0000"/><rect x="719" y="167" width="1" height="10" fill="#2f4f4f"/><rect x="718" y="168" width="3" height="6" fill="#2f4f4f"/><rect x="719" y="169" width="1" height="4" fill="#90ee90"/><rect x="723" y="171" width="1" height="20" fill="#2f4f4f"/><rect x="722" y="173" width="3" height="8" fill="#2f4f4f"/><rect x="723" y="174" width="1" height="6" fill="#90ee90"/><rect x="727" y="168" width="1" height="19" fill="#2f4f4f"/><rect x="726" y="180" width="3" height="5" fill="#2f4f4f"/><rect x="727" y="181" width="1" height="3" fill="#90ee90"/><rect x="731" y="163" width="1" height="21" fill="#8b0000"/><rect x="730" y="177" width="3" height="7" fill="#8b0000"/><rect x="731" y="178" width="1" height="5" fill="#ff0000"/><rect x="735" y="174" width="1" height="7" fill="#2f4f4f"/><rect x="734" y="176" width="3" height="4" fill="#2f4f4f"/><rect x="735" y="177" width="1" height="2" fill="#90ee90"/><rect x="739" y="158" width="1" height="19" fill="#8b0000"/><rect x="738" y="161" width="3" height="16" fill="#8b0000"/><rect x="739" y="162" width="1" height="14" fill="#ff0000"/><rect x="743" y="157" width="1" height="13" fill="#2f4f4f"/><rect x="742" y="161" width="3" height="9" fill="#2f4f4f"/><rect x="743" y="162" width="1" height="7" fill="#90ee90"/><rect x="747" y="157" width="1" height="14" fill="#8b0000"/><rect x="746" y="162" width="3" height="9" fill="#8b0000"/><rect x="747" y="163" width="1" height="7" fill="#ff0000"/><rect x="751" y="154" width="1" height="21" fill="#2f4f4f"/><rect x="750" y="162" width="3" height="12" fill="#2f4f4f"/><rect x="751" y="163" width="1" height="10" fill="#90ee90"/><rect x="755" y="155" width="1" height="23" fill="#8b0000"/><rect x="754" y="166" width="3" height="8" fill="#8b0000"/><rect x="755" y="167" width="1" height="6" fill="#ff0000"/><rect x="759" y="157" width="1" height="8" fill="#2f4f4f"/><rect x="758" y="158" width="3" height="5" fill="#2f4f4f"/><rect x="759" y="159" width="1" height="3" fill="#90ee90"/><rect x="763" y="158" width="1" height="14" fill="#2f4f4f"/><rect x="762" y="161" width="3" height="11" fill="#2f4f4f"/><rect x="763" y="162" width="1" height="9" fill="#90ee90"/><rect x="767" y="163" width="1" height="11" fill="#8b0000"/><rect x="766" y="164" width="3" height="8" fill="#8b0000"/><rect x="767" y="165" width="1" height="6" fill="#ff0000"/><rect x="771" y="158" width="1" height="12" fill="#2f4f4f"/><rect x="770" y="164" width="3" height="2" fill="#2f4f4f"/><rect x="775" y="161" width="1" height="9" fill="#2f4f4f"/><rect x="774" y="164" width="3" height="3" fill="#2f4f4f"/><rect x="775" y="165" width="1" height="1" fill="#90ee90"/><rect x="779" y="161" width="1" height="7" fill="#8b0000"/><rect x="778" y="163" width="3" height="5" fill="#8b0000"/><rect x="779" y="164" width="1" height="3" fill="#ff0000"/><rect x="783" y="162" width="1" height="4" fill="#2f4f4f"/><rect x="782" y="163" width="3" height="2" fill="#2f4f4f"/><rect x="787" y="143" width="1" height="21" fill="#8b0000"/><rect x="786" y="145" width="3" height="19" fill="#8b0000"/><rect x="787" y="146" width="1" height="17" fill="#ff0000"/><rect x="791" y="144" width="1" height="12" fill="#2f4f4f"/><rect x="790" y="145" width="3" height="2" fill="#2f4f4f"/><rect x="795" y="145" width="1" height="21" fill="#2f4f4f"/><rect x="794" y="146" width="3" height="16" fill="#2f4f4f"/><rect x="795" y="147" width="1" height="14" fill="#90ee90"/><rect x="799" y="134" width="1" height="28" fill="#8b0000"/><rect x="798" y="140" width="3" height="22" fill="#8b0000"/><rect x="799" y="141" width="1" height="20" fill="#ff0000"/><rect x="803" y="131" width="1" height="17" fill="#8b0000"/><rect x="802" y="133" width="3" height="8" fill="#8b0000"/><rect x="803" y="134" width="1" height="6" fill="#ff0000"/><rect x="807" y="125" width="1" height="11" fill="#2f4f4f"/><rect x="806" y="127" width="3" height="3" fill="#2f4f4f"/><rect x="807" y="128" width="1" height="1" fill="#90ee90"/><rect x="811" y="117" width="1" height="21" fill="#8b0000"/><rect x="810" y="118" width="3" height="7" fill="#8b0000"/><rect x="811" y="119" width="1" height="5" fill="#ff0000"/><rect x="815" y="112" width="1" height="16" fill="#2f4f4f"/><rect x="814" y="115" width="3" height="3" fill="#2f4f4f"/><rect x="815" y="116" width="1" height="1" fill="#90ee90"/><rect x="819" y="103" width="1" height="18" fill="#8b0000"/><rect x="818" y="106" width="3" height="12" fill="#8b0000"/><rect x="819" y="107" width="1" height="10" fill="#ff0000"/><rect x="823" y="101" width="1" height="27" fill="#2f4f4f"/><rect x="822" y="106" width="3" height="10" fill="#2f4f4f"/><rect x="823" y="107" width="1" height="8" fill="#90ee90"/><rect x="827" y="112" width="1" height="16" fill="#2f4f4f"/><rect x="826" y="115" width="3" height="11" fill="#2f4f4f"/><rect x="827" y="116" width="1" height="9" fill="#90ee90"/><rect x="831" y="115" width="1" height="14" fill="#2f4f4f"/><rect x="830" y="118" width="3" height="5" fill="#2f4f4f"/><rect x="831" y="119" width="1" height="3" fill="#90ee90"/><rect x="835" y="118" width="1" height="13" fill="#2f4f4f"/><rect x="834" y="121" width="3" height="6" fill="#2f4f4f"/><rect x="835" y="122" width="1" height="4" fill="#90ee90"/><rect x="839" y="121" width="1" height="11" fill="#2f4f4f"/><rect x="838" y="125" width="3" height="6" fill="#2f4f4f"/><rect x="839" y="126" width="1" height="4" fill="#90ee90"/><rect x="843" y="125" width="1" height="13" fill="#2f4f4f"/><rect x="842" y="130" width="3" height="8" fill="#2f4f4f"/><rect x="843" y="131" width="1" height="6" fill="#90ee90"/><rect x="847" y="121" width="1" height="16" fill="#8b0000"/><rect x="846" y="128" width="3" height="8" fill="#8b0000"/><rect x="847" y="129" width="1" height="6" fill="#ff0000"/><rect x="851" y="122" width="1" height="39" fill="#2f4f4f"/><rect x="850" y="128" width="3" height="17" fill="#2f4f4f"/><rect x="851" y="129" width="1" height="15" fill="#90ee90"/><rect x="855" y="131" width="1" height="15" fill="#8b0000"/><rect x="854" y="135" width="3" height="10" fill="#8b0000"/><rect x="855" y="136" width="1" height="8" fill="#ff0000"/><rect x="859" y="121" width="1" height="18" fill="#8b0000"/><rect x="858" y="123" width="3" height="15" fill="#8b0000"/><rect x="859" y="124" width="1" height="13" fill="#ff0000"/><rect x="863" y="122" width="1" height="17" fill="#2f4f4f"/><rect x="862" y="123" width="3" height="12" fill="#2f4f4f"/><rect x="863" y="124" width="1" height="10" fill="#90ee90"/><rect x="867" y="132" width="1" height="11" fill="#2f4f4f"/><rect x="866" y="134" width="3" height="5" fill="#2f4f4f"/><rect x="867" y="135" width="1" height="3" fill="#90ee90"/><rect x="871" y="114" width="1" height="28" fill="#8b0000"/><rect x="870" y="131" width="3" height="10" fill="#8b0000"/><rect x="871" y="132" width="1" height="8" fill="#ff0000"/><rect x="875" y="122" width="1" height="19" fill="#2f4f4f"/><rect x="874" y="132" width="3" height="8" fill="#2f4f4f"/><rect x="875" y="133" width="1" height="6" fill="#90ee90"/><rect x="879" y="128" width="1" height="9" fill="#8b0000"/><rect x="878" y="131" width="3" height="3" fill="#8b0000"/><rect x="879" y="132" width="1" height="1" fill="#ff0000"/><rect x="883" y="130" width="1" height="11" fill="#2f4f4f"/><rect x="882" y="133" width="3" height="6" fill="#2f4f4f"/><rect x="883" y="134" width="1" height="4" fill="#90ee90"/><rect x="887" y="134" width="1" height="22" fill="#2f4f4f"/><rect x="886" y="139" width="3" height="7" fill="#2f4f4f"/><rect x="887" y="140" width="1" height="5" fill="#90ee90"/><rect x="891" y="137" width="1" height="12" fill="#8b0000"/><rect x="890" y="140" width="3" height="5" fill="#8b0000"/><rect x="891" y="141" width="1" height="3" fill="#ff0000"/><rect x="895" y="134" width="1" height="14" fill="#8b0000"/><rect x="894" y="138" width="3" height="4" fill="#8b0000"/><rect x="895" y="139" width="1" height="2" fill="#ff0000"/><rect x="899" y="136" width="1" height="9" fill="#8b0000"/><rect x="898" y="139" width="3" height="3" fill="#8b0000"/><rect x="899" y="140" width="1" height="1" fill="#ff0000"/><rect x="903" y="133" width="1" height="9" fill="#8b0000"/><rect x="902" y="134" width="3" height="6" fill="#8b0000"/><rect x="903" y="135" width="1" height="4" fill="#ff0000"/><rect x="907" y="132" width="1" height="11" fill="#2f4f4f"/><rect x="906" y="135" width="3" height="3" fill="#2f4f4f"/><rect x="907" y="136" width="1" height="1" fill="#90ee90"/><rect x="911" y="122" width="1" height="18" fill="#8b0000"/><rect x="910" y="124" width="3" height="11" fill="#8b0000"/><rect x="911" y="125" width="1" height="9" fill="#ff0000"/><rect x="915" y="121" width="1" height="9" fill="#2f4f4f"/><rect x="914" y="124" width="3" height="3" fill="#2f4f4f"/><rect x="915" y="125" width="1" height="1" fill="#90ee90"/><rect x="919" y="112" width="1" height="17" fill="#8b0000"/><rect x="918" y="114" width="3" height="12" fill="#8b0000"/><rect x="919" y="115" width="1" height="10" fill="#ff0000"/><rect x="923" y="104" width="1" height="38" fill="#2f4f4f"/><rect x="922" y="115" width="3" height="26" fill="#2f4f4f"/><rect x="923" y="116" width="1" height="24" fill="#90ee90"/><rect x="927" y="133" width="1" height="11" fill="#2f4f4f"/><rect x="926" y="134" width="3" height="9" fill="#2f4f4f"/><rect x="927" y="135" width="1" height="7" fill="#90ee90"/><rect x="931" y="134" width="1" height="6" fill="#8b0000"/><rect x="930" y="135" width="3" height="2" fill="#8b0000"/><rect x="935" y="134" width="1" height="13" fill="#2f4f4f"/><rect x="934" y="136" width="3" height="7" fill="#2f4f4f"/><rect x="935" y="137" width="1" height="5" fill="#90ee90"/><rect x="939" y="137" width="1" height="13" fill="#2f4f4f"/><rect x="938" y="140" width="3" height="7" fill="#2f4f4f"/><rect x="939" y="141" width="1" height="5" fill="#90ee90"/><rect x="943" y="140" width="1" height="13" fill="#2f4f4f"/><rect x="942" y="144" width="3" height="5" fill="#2f4f4f"/><rect x="943" y="145" width="1" height="3" fill="#90ee90"/><rect x="947" y="141" width="1" height="14" fill="#2f4f4f"/><rect x="946" y="145" width="3" height="5" fill="#2f4f4f"/><rect x="947" y="146" width="1" height="3" fill="#90ee90"/><rect x="951" y="142" width="1" height="14" fill="#2f4f4f"/><rect x="950" y="146" width="3" height="5" fill="#2f4f4f"/><rect x="951" y="147" width="1" height="3" fill="#90ee90"/><rect x="955" y="140" width="1" height="8" fill="#2f4f4f"/><rect x="954" y="144" width="3" height="3" fill="#2f4f4f"/><rect x="955" y="145" width="1" height="1" fill="#90ee90"/><rect x="959" y="140" width="1" height="17" fill="#2f4f4f"/><rect x="958" y="146" width="3" height="5" fill="#2f4f4f"/><rect x="959" y="147" width="1" height="3" fill="#90ee90"/><rect x="963" y="131" width="1" height="24" fill="#8b0000"/><rect x="962" y="136" width="3" height="15" fill="#8b0000"/><rect x="963" y="137" width="1" height="13" fill="#ff0000"/><rect x="967" y="133" width="1" height="14" fill="#8b0000"/><rect x="966" y="135" width="3" height="3" fill="#8b0000"/><rect x="967" y="136" width="1" height="1" fill="#ff0000"/><rect x="971" y="126" width="1" height="17" fill="#8b0000"/><rect x="970" y="134" width="3" height="3" fill="#8b0000"/><rect x="971" y="135" width="1" height="1" fill="#ff0000"/><rect x="975" y="129" width="1" height="7" fill="#2f4f4f"/><rect x="974" y="132" width="3" height="3" fill="#2f4f4f"/><rect x="975" y="133" width="1" height="1" fill="#90ee90"/><rect x="979" y="126" width="1" height="8" fill="#8b0000"/><rect x="978" y="128" width="3" height="4" fill="#8b0000"/><rect x="979" y="129" width="1" height="2" fill="#ff0000"/><rect x="983" y="129" width="1" height="9" fill="#2f4f4f"/><rect x="982" y="132" width="3" height="3" fill="#2f4f4f"/><rect x="983" y="133" width="1" height="1" fill="#90ee90"/><rect x="987" y="131" width="1" height="17" fill="#2f4f4f"/><rect x="986" y="134" width="3" height="10" fill="#2f4f4f"/><rect x="987" y="135" width="1" height="8" fill="#90ee90"/><rect x="991" y="135" width="1" height="10" fill="#2f4f4f"/><rect x="990" y="141" width="3" height="2" fill="#2f4f4f"/><rect x="995" y="136" width="1" height="11" fill="#8b0000"/><rect x="994" y="141" width="3" height="3" fill="#8b0000"/><rect x="995" y="142" width="1" height="1" fill="#ff0000"/><rect x="999" y="117" width="1" height="34" fill="#8b0000"/><rect x="998" y="122" width="3" height="22" fill="#8b0000"/><rect x="999" y="123" width="1" height="20" fill="#ff0000"/><rect x="1003" y="111" width="1" height="18" fill="#2f4f4f"/><rect x="1002" y="122" width="3" height="5" fill="#2f4f4f"/><rect x="1003" y="123" width="1" height="3" fill="#90ee90"/><rect x="1007" y="124" width="1" height="13" fill="#2f4f4f"/><rect x="1006" y="126" width="3" height="6" fill="#2f4f4f"/><rect x="1007" y="127" width="1" height="4" fill="#90ee90"/><rect x="1011" y="124" width="1" height="10" fill="#8b0000"/><rect x="1010" y="129" width="3" height="3" fill="#8b0000"/><rect x="1011" y="130" width="1" height="1" fill="#ff0000"/><rect x="1015" y="113" width="1" height="24" fill="#8b0000"/><rect x="1014" y="121" width="3" height="9" fill="#8b0000"/><rect x="1015" y="122" width="1" height="7" fill="#ff0000"/><rect x="1019" y="90" width="1" height="33" fill="#8b0000"/><rect x="1018" y="99" width="3" height="24" fill="#8b0000"/><rect x="1019" y="100" width="1" height="22" fill="#ff0000"/><rect x="1023" y="90" width="1" height="13" fill="#8b0000"/><rect x="1022" y="92" width="3" height="9" fill="#8b0000"/><rect x="1023" y="93" width="1" height="7" fill="#ff0000"/><rect x="1027" y="90" width="1" height="12" fill="#2f4f4f"/><rect x="1026" y="91" width="3" height="8" fill="#2f4f4f"/><rect x="1027" y="92" width="1" height="6" fill="#90ee90"/><rect x="1031" y="90" width="1" height="11" fill="#8b0000"/><rect x="1030" y="91" width="3" height="8" fill="#8b0000"/><rect x="1031" y="92" width="1" height="6" fill="#ff0000"/><rect x="1035" y="72" width="1" height="20" fill="#8b0000"/><rect x="1034" y="77" width="3" height="15" fill="#8b0000"/><rect x="1035" y="78" width="1" height="13" fill="#ff0000"/><rect x="1039" y="49" width="1" height="32" fill="#8b0000"/><rect x="1038" y="50" width="3" height="28" fill="#8b0000"/><rect x="1039" y="51" width="1" height="26" fill="#ff0000"/><rect x="1043" y="50" width="1" height="56" fill="#2f4f4f"/><rect x="1042" y="53" width="3" height="31" fill="#2f4f4f"/><rect x="1043" y="54" width="1" height="29" fill="#90ee90"/><rect x="1047" y="78" width="1" height="10" fill="#8b0000"/><rect x="1046" y="80" width="3" height="5" fill="#8b0000"/><rect x="1047" y="81" width="1" height="3" fill="#ff0000"/><rect x="1051" y="63" width="1" height="18" fill="#8b0000"/><rect x="1050" y="65" width="3" height="14" fill="#8b0000"/><rect x="1051" y="66" width="1" height="12" fill="#ff0000"/><rect x="1055" y="52" width="1" height="19" fill="#8b0000"/><rect x="1054" y="54" width="3" height="7" fill="#8b0000"/><rect x="1055" y="55" width="1" height="5" fill="#ff0000"/><rect x="1059" y="51" width="1" height="10" fill="#2f4f4f"/><rect x="1058" y="55" width="3" height="3" fill="#2f4f4f"/><rect x="1059" y="56" width="1" height="1" fill="#90ee90"/><rect x="1063" y="52" width="1" height="17" fill="#2f4f4f"/><rect x="1062" y="57" width="3" height="10" fill="#2f4f4f"/><rect x="1063" y="58" width="1" height="8" fill="#90ee90"/><rect x="1067" y="64" width="1" height="26" fill="#2f4f4f"/><rect x="1066" y="66" width="3" height="5" fill="#2f4f4f"/><rect x="1067" y="67" width="1" height="3" fill="#90ee90"/><rect x="1071" y="66" width="1" height="13" fill="#2f4f4f"/><rect x="1070" y="70" width="3" height="4" fill="#2f4f4f"/><rect x="1071" y="71" width="1" height="2" fill="#90ee90"/><rect x="1075" y="70" width="1" height="11" fill="#2f4f4f"/><rect x="1074" y="73" width="3" height="4" fill="#2f4f4f"/><rect x="1075" y="74" width="1" height="2" fill="#90ee90"/><rect x="1079" y="72" width="1" height="13" fill="#2f4f4f"/><rect x="1078" y="75" width="3" height="6" fill="#2f4f4f"/><rect x="1079" y="76" width="1" height="4" fill="#90ee90"/><rect x="1083" y="74" width="1" height="13" fill="#2f4f4f"/><rect x="1082" y="77" width="3" height="6" fill="#2f4f4f"/><rect x="1083" y="78" width="1" height="4" fill="#90ee90"/><rect x="1087" y="61" width="1" height="19" fill="#8b0000"/><rect x="1086" y="66" width="3" height="12" fill="#8b0000"/><rect x="1087" y="67" width="1" height="10" fill="#ff0000"/><rect x="1091" y="59" width="1" height="23" fill="#2f4f4f"/><rect x="1090" y="66" width="3" height="9" fill="#2f4f4f"/><rect x="1091" y="67" width="1" height="7" fill="#90ee90"/><rect x="1095" y="71" width="1" height="12" fill="#2f4f4f"/><rect x="1094" y="74" width="3" height="6" fill="#2f4f4f"/><rect x="1095" y="75" width="1" height="4" fill="#90ee90"/><rect x="1099" y="64" width="1" height="16" fill="#8b0000"/><rect x="1098" y="72" width="3" height="8" fill="#8b0000"/><rect x="1099" y="73" width="1" height="6" fill="#ff0000"/><rect x="1103" y="65" width="1" height="10" fill="#8b0000"/><rect x="1102" y="67" width="3" height="7" fill="#8b0000"/><rect x="1103" y="68" width="1" height="5" fill="#ff0000"/></g>
<polygon fill="#f75858" points="671.4,245.4 799.0,127.8 804.7,133.7 819.5,101.5 786.8,115.2 792.5,121.1 670.6,244.6"/>
<polygon fill="#f75858" points="824.2,102.6 834.4,139.7 826.8,142.7 850.9,168.7 850.8,133.3 843.2,136.3 825.4,102.2"/>
<polygon fill="#f75858" points="852.8,163.7 893.4,133.4 898.8,139.5 915.0,108.0 881.7,120.2 887.1,126.3 852.0,162.7"/>
<polygon fill="#f75858" points="918.2,105.4 933.0,136.4 926.0,140.7 954.6,161.7 947.8,126.9 940.9,131.3 919.2,104.8"/>
<polygon fill="#f75858" points="963.9,153.9 1025.8,81.8 1032.2,86.9 1042.5,53.0 1012.0,71.0 1018.4,76.0 962.9,153.1"/>
<polygon fill="#f75858" points="1045.7,53.5 1076.2,89.2 1070.4,95.1 1103.0,109.0 1088.5,76.7 1082.8,82.5 1046.5,52.7"/>
<polygon fill="#f75858" points="1106.7,106.9 1123.0,66.4 1130.9,68.7 1127.9,33.4 1106.1,61.4 1114.0,63.7 1105.5,106.5"/>
<g shape-rendering="crispEdges">
<rect x="0" y="590" width="1184" height="1" fill="#ff0000"/>
<line x1="1" y1="607.5" x2="1184" y2="607.5" stroke="#ff0000" stroke-width="1" stroke-dasharray="3 3 9 3 3 3"/>
<line x1="2" y1="629.5" x2="1184" y2="629.5" stroke="#808080" stroke-width="1" stroke-dasharray="3 3"/>
<line x1="1" y1="651.5" x2="1184" y2="651.5" stroke="#0000ff" stroke-width="1" stroke-dasharray="3 3 9 3 3 3"/>
<rect x="0" y="668" width="1184" height="1" fill="#0000ff"/>
</g>
<polyline fill="none" stroke="#ff0000" stroke-width="1" shape-rendering="crispEdges" points="0.5,599.3 3.7,608.1 10.1,606.5 19.7,602.5 29.3,600.1 40.5,598.5 51.7,597.4 61.3,592.9 71.0,589.4 75.8,590.5 80.6,604.1 83.8,617.7 90.2,616.1 95.8,615.0 100.6,616.9 106.2,610.5 112.6,605.7 119.0,609.7 125.4,621.7 131.8,637.0 136.6,639.4 140.6,644.2 145.4,637.8 150.2,639.4 155.8,642.6 160.6,637.8 168.6,637.0 173.4,633.0 179.8,632.1 188.6,634.5 195.9,638.6 200.3,637.8 204.3,633.3 211.5,636.2 219.5,639.4 229.1,645.4 237.1,645.0 243.5,650.6 247.5,652.2 252.3,645.8 259.5,645.8 266.0,640.2 272.4,635.4 277.2,637.8 283.6,643.4 288.4,641.0 293.2,636.5 298.0,636.2 302.8,632.1 308.4,630.5 313.2,633.8 320.4,631.3 326.8,633.0 331.6,634.5 336.4,632.1 342.8,631.3 349.2,631.7 355.6,634.9 363.6,635.4 370.0,639.4 378.0,642.6 383.7,637.8 389.3,635.4 395.5,634.5 398.5,632.1 404.1,634.5 411.3,628.9 416.1,628.9 420.1,633.8 428.9,630.1 436.1,627.3 440.9,629.4 444.9,627.3 448.9,628.1 456.2,616.9 462.6,612.9 470.6,610.5 478.6,607.6 486.6,607.6 491.4,613.7 501.0,609.7 504.2,616.1 512.2,612.1 520.2,604.9 525.0,607.3 532.2,604.1 536.2,605.7 540.2,614.5 544.2,618.2 549.0,615.0 553.8,616.1 557.8,621.7 561.0,631.3 566.6,633.8 571.5,633.0 576.2,636.5 582.7,634.5 585.5,635.5 591.9,640.6 599.9,643.4 604.7,641.0 609.5,635.8 615.9,632.1 620.7,632.1 631.9,624.6 639.9,631.3 646.3,632.1 652.0,634.5 656.8,630.5 668.0,631.7 672.0,636.2 676.0,638.1 684.0,629.7 691.2,632.1 696.0,635.4 702.4,630.5 709.6,623.3 715.2,618.5 720.0,617.7 724.8,621.7 731.2,620.1 736.0,620.9 742.4,616.9 752.0,616.9 760.0,616.1 766.5,619.3 772.8,618.5 777.7,619.3 781.5,618.5 785.3,618.5 790.9,614.1 795.7,617.7 802.9,610.5 809.3,607.3 814.1,607.0 819.7,604.1 828.5,609.7 831.7,608.9 835.7,616.1 840.5,617.3 844.6,621.7 847.8,619.8 851.8,624.1 860.6,618.9 867.0,622.5 871.8,620.1 878.2,623.0 883.0,623.3 887.8,628.5 897.4,625.7 908.6,625.7 913.4,620.9 919.8,617.3 924.6,619.3 927.8,627.3 931.8,628.1 937.4,625.7 943.8,626.5 947.8,632.1 956.6,632.1 960.6,633.8 964.6,629.7 971.1,626.5 977.5,625.3 983.5,625.7 987.5,629.7 995.5,631.0 999.5,625.7 1003.8,618.5 1007.5,624.9 1013.9,623.3 1019.5,615.3 1025.1,612.5 1031.5,611.8 1039.9,601.7 1043.6,611.3 1047.6,613.7 1055.6,608.9 1058.8,607.6 1063.6,610.5 1067.6,618.2 1075.6,619.3 1081.2,624.9 1084.4,624.9 1090.8,619.3 1097.2,619.3 1102.8,618.2"/>
<polyline fill="none" stroke="#0000ff" stroke-width="1" shape-rendering="crispEdges" points="0.5,597.7 3.7,607.6 10.1,605.7 16.5,602.5 24.5,598.5 32.5,597.4 40.5,595.3 51.7,593.2 61.3,588.1 71.0,584.1 75.0,586.5 79.0,602.5 83.8,623.3 90.2,621.7 95.8,618.5 99.8,622.5 106.2,612.1 111.8,604.9 117.4,608.9 123.8,623.3 130.2,641.0 135.0,645.8 140.6,651.4 144.6,643.4 149.4,645.8 155.0,649.8 159.0,643.4 167.0,641.0 173.4,634.5 179.8,632.1 187.8,633.8 192.7,637.0 196.7,642.6 200.3,640.2 204.3,633.8 208.3,635.8 212.3,639.4 219.5,644.2 228.3,651.4 233.9,650.6 239.5,652.2 243.5,658.3 247.5,658.6 251.5,649.8 259.5,650.6 264.4,644.2 271.6,633.0 275.6,634.5 280.4,641.0 284.4,645.8 287.6,642.6 291.6,636.2 296.4,635.4 301.2,630.1 308.4,625.7 312.4,630.5 318.8,627.8 323.6,631.3 328.4,632.1 331.6,635.4 335.6,630.5 342.8,628.9 349.2,629.4 354.0,633.8 358.8,636.2 363.6,634.2 368.4,640.2 376.5,646.6 381.2,642.6 384.5,637.0 389.3,634.5 395.5,633.0 400.1,630.1 404.1,633.8 411.3,623.0 416.1,623.0 420.1,632.6 427.3,627.8 436.1,621.7 440.1,626.5 444.9,623.3 448.9,624.9 453.0,613.7 457.8,607.6 464.2,604.1 470.6,601.7 478.6,596.9 486.6,598.5 491.4,609.7 496.2,608.1 500.2,606.5 504.2,614.5 510.6,612.1 515.4,602.5 520.2,598.5 525.0,600.9 531.4,597.7 536.2,602.5 540.2,616.1 544.2,620.9 549.0,615.3 553.8,616.1 557.8,623.3 561.0,637.8 565.0,640.2 571.5,639.4 576.2,643.8 581.1,640.2 585.9,641.0 588.5,643.5 591.9,649.0 596.7,649.0 600.7,651.4 604.7,647.4 607.9,638.6 611.9,637.0 615.9,632.1 619.9,634.5 631.9,621.7 639.9,632.1 646.3,633.0 652.0,637.8 656.0,630.5 662.4,632.1 668.0,632.1 672.0,638.6 676.0,640.6 683.2,628.5 691.2,632.1 696.0,636.2 700.8,630.5 707.2,624.1 712.0,615.3 716.0,612.9 720.8,610.5 724.8,617.7 731.2,616.1 736.0,616.9 742.4,612.5 748.8,610.9 755.2,612.9 760.0,610.5 764.8,617.7 769.6,616.1 776.1,618.2 781.5,615.3 784.5,615.3 790.1,607.6 795.7,614.5 801.3,607.3 807.7,602.5 812.5,600.1 816.5,600.1 820.2,596.9 823.7,600.1 828.5,605.7 831.7,604.9 835.7,616.1 840.5,617.7 844.6,624.9 847.8,622.1 851.8,628.9 860.6,621.4 864.6,622.1 868.6,626.5 872.6,620.9 878.2,624.9 883.0,626.5 887.8,633.8 892.6,631.3 899.0,627.3 908.6,627.3 913.4,620.1 919.8,616.1 923.8,618.5 927.8,630.5 931.8,631.3 936.6,628.1 942.2,629.7 947.8,638.6 955.8,636.2 959.8,638.6 964.6,631.3 969.5,627.3 975.9,624.1 979.5,623.3 983.5,625.7 987.5,632.1 995.5,633.0 999.5,624.9 1003.8,614.5 1007.5,624.9 1013.9,622.5 1019.5,612.1 1023.5,608.1 1031.5,605.7 1035.5,600.9 1039.9,594.5 1043.6,610.5 1047.6,613.7 1051.6,610.5 1058.8,604.9 1063.6,609.7 1067.6,618.5 1075.6,621.7 1080.4,627.3 1084.4,627.3 1090.8,620.1 1095.6,621.4 1102.0,618.2"/>
<polyline fill="none" stroke="#000000" stroke-width="1" shape-rendering="crispEdges" points="0.5,590.5 2.1,597.7 4.5,608.1 10.1,604.9 14.9,600.9 19.7,596.1 26.1,591.3 34.1,589.7 40.5,586.5 46.9,584.9 51.7,584.6 56.5,581.7 63.0,577.7 71.0,576.9 74.2,580.1 77.4,589.7 80.6,612.1 83.8,641.0 87.8,639.4 91.8,634.5 95.8,629.7 99.8,634.5 103.0,616.1 107.0,608.9 111.8,600.9 115.8,605.7 119.8,613.7 123.8,629.7 128.6,652.2 131.8,659.4 136.6,661.8 139.8,665.8 143.8,649.8 147.8,652.2 151.8,657.8 155.8,658.6 159.0,644.2 167.0,642.6 171.8,633.8 176.6,630.5 179.8,626.5 183.0,630.5 187.8,631.3 191.8,636.2 195.9,649.0 199.5,645.0 203.5,626.9 207.5,633.0 211.5,639.4 219.5,649.8 224.3,657.0 228.3,663.1 233.9,662.1 238.7,663.4 243.5,671.1 247.5,673.0 251.5,651.4 256.4,649.8 260.4,650.6 264.4,643.4 268.4,624.1 272.0,618.2 275.6,623.3 279.6,639.4 283.6,647.4 287.6,642.6 291.6,627.3 295.6,628.1 299.6,620.1 307.6,611.3 311.6,624.1 319.6,618.5 323.6,629.7 328.4,631.3 331.6,636.2 335.6,624.9 339.6,623.7 342.8,624.1 347.6,622.1 351.6,628.9 355.6,636.2 359.6,644.2 363.6,634.5 368.4,652.2 375.6,661.0 380.5,657.8 383.7,638.6 387.7,631.3 391.7,631.0 393.7,629.7 400.1,620.9 404.1,629.7 408.1,619.3 412.1,609.7 415.8,609.7 420.1,632.1 427.3,625.7 432.1,620.1 436.1,612.1 440.1,622.5 444.1,616.9 448.1,622.5 452.1,603.3 456.2,595.3 462.6,590.0 467.4,588.9 473.8,585.7 478.6,584.1 483.4,584.6 488.2,588.9 492.2,612.9 496.2,608.9 500.2,605.4 504.2,622.5 509.0,616.9 512.2,612.9 516.2,599.3 520.2,592.9 524.2,597.4 528.2,595.3 532.2,591.6 536.2,600.6 540.2,621.7 544.2,631.3 549.0,619.3 552.2,621.7 555.4,629.7 559.4,652.2 563.4,655.4 568.2,655.4 572.2,652.2 576.2,658.6 581.1,650.6 585.9,653.0 588.7,656.2 591.9,662.6 595.9,663.1 599.9,666.6 603.9,657.8 607.1,639.4 611.1,635.4 615.9,625.7 619.9,628.9 623.9,621.7 627.9,614.5 631.9,607.0 635.1,617.7 639.1,630.5 643.1,632.1 647.9,633.8 652.0,643.4 656.0,627.8 660.0,631.3 667.2,632.1 670.4,644.2 675.2,649.0 679.2,637.8 683.2,621.7 687.2,624.9 691.2,633.8 696.0,640.2 700.8,628.1 704.8,621.7 708.8,606.5 712.8,600.1 716.0,598.5 720.0,596.9 724.0,611.3 728.0,609.7 732.0,608.1 736.0,611.3 740.0,604.9 745.6,600.6 750.4,602.5 755.2,607.3 760.0,601.7 764.0,616.9 768.0,621.7 772.0,616.1 776.9,618.5 780.9,616.9 783.7,614.5 787.7,600.1 791.7,598.0 795.7,614.5 799.7,605.7 804.5,595.3 809.3,592.1 812.5,589.7 816.5,589.7 820.2,585.7 823.7,593.7 827.7,606.5 831.7,604.9 835.7,625.7 839.7,628.9 843.7,641.0 847.8,633.8 851.8,645.0 855.8,633.8 859.8,624.1 863.8,624.1 867.8,636.2 871.8,620.9 876.6,628.1 880.6,633.8 884.6,632.1 888.6,645.8 892.6,641.0 899.0,628.1 904.6,628.9 908.6,632.1 911.8,618.5 916.6,611.3 920.1,604.9 923.8,610.5 927.8,639.4 931.8,638.6 935.8,628.9 940.6,631.3 944.6,636.2 947.8,649.8 951.8,647.0 955.8,644.2 959.8,649.8 963.8,634.5 967.8,627.3 971.8,621.7 975.9,616.6 979.5,616.1 983.5,620.1 987.5,636.2 991.5,635.4 995.5,637.8 999.5,623.3 1003.8,601.7 1007.5,622.5 1011.5,620.9 1015.5,616.9 1019.5,602.5 1023.5,596.1 1031.5,595.8 1035.5,588.9 1039.9,584.1 1043.6,609.7 1047.6,615.3 1051.6,609.7 1055.6,604.1 1059.6,601.7 1063.6,607.3 1067.6,625.7 1071.6,624.9 1075.6,628.9 1079.6,638.6 1083.6,641.0 1087.6,628.1 1091.6,620.1 1095.6,625.7 1099.6,620.1 1102.8,617.7"/>
<g shape-rendering="crispEdges"><rect x="2" y="737" width="3" height="3" fill="#1e90ff"/><rect x="6" y="740" width="3" height="5" fill="#ffa07a"/><rect x="10" y="740" width="3" height="1" fill="#ffa07a"/><rect x="14" y="740" width="3" height="4" fill="#ffa07a"/><rect x="18" y="736" width="3" height="4" fill="#1e90ff"/><rect x="22" y="736" width="3" height="4" fill="#1e90ff"/><rect x="26" y="737" width="3" height="3" fill="#1e90ff"/><rect x="30" y="740" width="3" height="1" fill="#ffa07a"/><rect x="34" y="740" width="3" height="3" fill="#ffa07a"/><rect x="38" y="740" width="3" height="1" fill="#ffa07a"/><rect x="42" y="738" width="3" height="2" fill="#1e90ff"/><rect x="46" y="740" width="3" height="6" fill="#ffa07a"/><rect x="50" y="740" width="3" height="1" fill="#ffa07a"/><rect x="54" y="739" width="3" height="1" fill="#1e90ff"/><rect x="58" y="731" width="3" height="9" fill="#1e90ff"/><rect x="62" y="725" width="3" height="15" fill="#1e90ff"/><rect x="66" y="732" width="3" height="8" fill="#1e90ff"/><rect x="70" y="727" width="3" height="13" fill="#1e90ff"/><rect x="74" y="737" width="3" height="3" fill="#1e90ff"/><rect x="78" y="740" width="3" height="18" fill="#ffa07a"/><rect x="82" y="740" width="3" height="34" fill="#ffa07a"/><rect x="86" y="740" width="3" height="28" fill="#ffa07a"/><rect x="90" y="740" width="3" height="18" fill="#ffa07a"/><rect x="94" y="740" width="3" height="17" fill="#ffa07a"/><rect x="98" y="740" width="3" height="9" fill="#ffa07a"/><rect x="102" y="736" width="3" height="4" fill="#1e90ff"/><rect x="106" y="723" width="3" height="17" fill="#1e90ff"/><rect x="110" y="724" width="3" height="16" fill="#1e90ff"/><rect x="114" y="728" width="3" height="12" fill="#1e90ff"/><rect x="118" y="739" width="3" height="1" fill="#1e90ff"/><rect x="122" y="740" width="3" height="18" fill="#ffa07a"/><rect x="126" y="740" width="3" height="39" fill="#ffa07a"/><rect x="130" y="740" width="3" height="51" fill="#ffa07a"/><rect x="134" y="740" width="3" height="34" fill="#ffa07a"/><rect x="138" y="740" width="3" height="34" fill="#ffa07a"/><rect x="142" y="740" width="3" height="12" fill="#ffa07a"/><rect x="146" y="740" width="3" height="14" fill="#ffa07a"/><rect x="150" y="740" width="3" height="7" fill="#ffa07a"/><rect x="154" y="740" width="3" height="1" fill="#ffa07a"/><rect x="158" y="730" width="3" height="10" fill="#1e90ff"/><rect x="162" y="731" width="3" height="9" fill="#1e90ff"/><rect x="166" y="723" width="3" height="17" fill="#1e90ff"/><rect x="170" y="718" width="3" height="22" fill="#1e90ff"/><rect x="174" y="716" width="3" height="24" fill="#1e90ff"/><rect x="178" y="720" width="3" height="20" fill="#1e90ff"/><rect x="182" y="727" width="3" height="13" fill="#1e90ff"/><rect x="186" y="733" width="3" height="7" fill="#1e90ff"/><rect x="190" y="739" width="3" height="1" fill="#1e90ff"/><rect x="194" y="740" width="3" height="9" fill="#ffa07a"/><rect x="198" y="740" width="3" height="1" fill="#ffa07a"/><rect x="202" y="736" width="3" height="4" fill="#1e90ff"/><rect x="206" y="734" width="3" height="6" fill="#1e90ff"/><rect x="210" y="740" width="3" height="2" fill="#ffa07a"/><rect x="214" y="740" width="3" height="3" fill="#ffa07a"/><rect x="218" y="740" width="3" height="11" fill="#ffa07a"/><rect x="222" y="740" width="3" height="14" fill="#ffa07a"/><rect x="226" y="740" width="3" height="14" fill="#ffa07a"/><rect x="230" y="740" width="3" height="15" fill="#ffa07a"/><rect x="234" y="740" width="3" height="4" fill="#ffa07a"/><rect x="238" y="740" width="3" height="8" fill="#ffa07a"/><rect x="242" y="740" width="3" height="18" fill="#ffa07a"/><rect x="246" y="740" width="3" height="8" fill="#ffa07a"/><rect x="250" y="735" width="3" height="5" fill="#1e90ff"/><rect x="254" y="732" width="3" height="8" fill="#1e90ff"/><rect x="258" y="726" width="3" height="14" fill="#1e90ff"/><rect x="262" y="728" width="3" height="12" fill="#1e90ff"/><rect x="266" y="716" width="3" height="24" fill="#1e90ff"/><rect x="270" y="719" width="3" height="21" fill="#1e90ff"/><rect x="274" y="728" width="3" height="12" fill="#1e90ff"/><rect x="278" y="740" width="3" height="7" fill="#ffa07a"/><rect x="282" y="740" width="3" height="7" fill="#ffa07a"/><rect x="286" y="740" width="3" height="1" fill="#ffa07a"/><rect x="290" y="731" width="3" height="9" fill="#1e90ff"/><rect x="294" y="730" width="3" height="10" fill="#1e90ff"/><rect x="298" y="729" width="3" height="11" fill="#1e90ff"/><rect x="302" y="727" width="3" height="13" fill="#1e90ff"/><rect x="306" y="734" width="3" height="6" fill="#1e90ff"/><rect x="310" y="737" width="3" height="3" fill="#1e90ff"/><rect x="314" y="739" width="3" height="1" fill="#1e90ff"/><rect x="318" y="739" width="3" height="1" fill="#1e90ff"/><rect x="322" y="740" width="3" height="4" fill="#ffa07a"/><rect x="326" y="740" width="3" height="4" fill="#ffa07a"/><rect x="330" y="740" width="3" height="3" fill="#ffa07a"/><rect x="334" y="739" width="3" height="1" fill="#1e90ff"/><rect x="338" y="740" width="3" height="3" fill="#ffa07a"/><rect x="342" y="739" width="3" height="1" fill="#1e90ff"/><rect x="346" y="740" width="3" height="1" fill="#ffa07a"/><rect x="350" y="740" width="3" height="4" fill="#ffa07a"/><rect x="354" y="740" width="3" height="7" fill="#ffa07a"/><rect x="358" y="740" width="3" height="7" fill="#ffa07a"/><rect x="362" y="740" width="3" height="3" fill="#ffa07a"/><rect x="366" y="740" width="3" height="7" fill="#ffa07a"/><rect x="370" y="740" width="3" height="9" fill="#ffa07a"/><rect x="374" y="740" width="3" height="11" fill="#ffa07a"/><rect x="378" y="740" width="3" height="5" fill="#ffa07a"/><rect x="382" y="736" width="3" height="4" fill="#1e90ff"/><rect x="386" y="734" width="3" height="6" fill="#1e90ff"/><rect x="390" y="732" width="3" height="8" fill="#1e90ff"/><rect x="394" y="731" width="3" height="9" fill="#1e90ff"/><rect x="398" y="733" width="3" height="7" fill="#1e90ff"/><rect x="402" y="734" width="3" height="6" fill="#1e90ff"/><rect x="406" y="733" width="3" height="7" fill="#1e90ff"/><rect x="410" y="731" width="3" height="9" fill="#1e90ff"/><rect x="414" y="736" width="3" height="4" fill="#1e90ff"/><rect x="418" y="740" width="3" height="1" fill="#ffa07a"/><rect x="422" y="740" width="3" height="4" fill="#ffa07a"/><rect x="426" y="740" width="3" height="1" fill="#ffa07a"/><rect x="430" y="736" width="3" height="4" fill="#1e90ff"/><rect x="434" y="737" width="3" height="3" fill="#1e90ff"/><rect x="438" y="740" width="3" height="2" fill="#ffa07a"/><rect x="442" y="739" width="3" height="1" fill="#1e90ff"/><rect x="446" y="740" width="3" height="1" fill="#ffa07a"/><rect x="450" y="733" width="3" height="7" fill="#1e90ff"/><rect x="454" y="730" width="3" height="10" fill="#1e90ff"/><rect x="458" y="726" width="3" height="14" fill="#1e90ff"/><rect x="462" y="730" width="3" height="10" fill="#1e90ff"/><rect x="466" y="729" width="3" height="11" fill="#1e90ff"/><rect x="470" y="732" width="3" height="8" fill="#1e90ff"/><rect x="474" y="731" width="3" height="9" fill="#1e90ff"/><rect x="478" y="737" width="3" height="3" fill="#1e90ff"/><rect x="482" y="739" width="3" height="1" fill="#1e90ff"/><rect x="486" y="740" width="3" height="6" fill="#ffa07a"/><rect x="490" y="740" width="3" height="11" fill="#ffa07a"/><rect x="494" y="740" width="3" height="9" fill="#ffa07a"/><rect x="498" y="740" width="3" height="9" fill="#ffa07a"/><rect x="502" y="740" width="3" height="10" fill="#ffa07a"/><rect x="506" y="740" width="3" height="7" fill="#ffa07a"/><rect x="510" y="740" width="3" height="4" fill="#ffa07a"/><rect x="514" y="728" width="3" height="12" fill="#1e90ff"/><rect x="518" y="729" width="3" height="11" fill="#1e90ff"/><rect x="522" y="735" width="3" height="5" fill="#1e90ff"/><rect x="526" y="735" width="3" height="5" fill="#1e90ff"/><rect x="530" y="734" width="3" height="6" fill="#1e90ff"/><rect x="534" y="740" width="3" height="4" fill="#ffa07a"/><rect x="538" y="740" width="3" height="16" fill="#ffa07a"/><rect x="542" y="740" width="3" height="15" fill="#ffa07a"/><rect x="546" y="740" width="3" height="4" fill="#ffa07a"/><rect x="550" y="740" width="3" height="8" fill="#ffa07a"/><rect x="554" y="740" width="3" height="9" fill="#ffa07a"/><rect x="558" y="740" width="3" height="27" fill="#ffa07a"/><rect x="562" y="740" width="3" height="23" fill="#ffa07a"/><rect x="566" y="740" width="3" height="12" fill="#ffa07a"/><rect x="570" y="740" width="3" height="14" fill="#ffa07a"/><rect x="574" y="740" width="3" height="12" fill="#ffa07a"/><rect x="578" y="740" width="3" height="6" fill="#ffa07a"/><rect x="582" y="739" width="3" height="1" fill="#1e90ff"/><rect x="586" y="739" width="3" height="1" fill="#1e90ff"/><rect x="590" y="740" width="3" height="2" fill="#ffa07a"/><rect x="594" y="740" width="3" height="7" fill="#ffa07a"/><rect x="598" y="740" width="3" height="7" fill="#ffa07a"/><rect x="602" y="736" width="3" height="4" fill="#1e90ff"/><rect x="606" y="727" width="3" height="13" fill="#1e90ff"/><rect x="610" y="724" width="3" height="16" fill="#1e90ff"/><rect x="614" y="727" width="3" height="13" fill="#1e90ff"/><rect x="618" y="728" width="3" height="12" fill="#1e90ff"/><rect x="622" y="727" width="3" height="13" fill="#1e90ff"/><rect x="626" y="725" width="3" height="15" fill="#1e90ff"/><rect x="630" y="724" width="3" height="16" fill="#1e90ff"/><rect x="634" y="736" width="3" height="4" fill="#1e90ff"/><rect x="638" y="740" width="3" height="4" fill="#ffa07a"/><rect x="642" y="740" width="3" height="8" fill="#ffa07a"/><rect x="646" y="740" width="3" height="8" fill="#ffa07a"/><rect x="650" y="740" width="3" height="8" fill="#ffa07a"/><rect x="654" y="738" width="3" height="2" fill="#1e90ff"/><rect x="658" y="740" width="3" height="1" fill="#ffa07a"/><rect x="662" y="740" width="3" height="1" fill="#ffa07a"/><rect x="666" y="740" width="3" height="2" fill="#ffa07a"/><rect x="670" y="740" width="3" height="5" fill="#ffa07a"/><rect x="674" y="740" width="3" height="7" fill="#ffa07a"/><rect x="678" y="737" width="3" height="3" fill="#1e90ff"/><rect x="682" y="732" width="3" height="8" fill="#1e90ff"/><rect x="686" y="735" width="3" height="5" fill="#1e90ff"/><rect x="690" y="740" width="3" height="1" fill="#ffa07a"/><rect x="694" y="740" width="3" height="1" fill="#ffa07a"/><rect x="698" y="738" width="3" height="2" fill="#1e90ff"/><rect x="702" y="734" width="3" height="6" fill="#1e90ff"/><rect x="706" y="725" width="3" height="15" fill="#1e90ff"/><rect x="710" y="723" width="3" height="17" fill="#1e90ff"/><rect x="714" y="725" width="3" height="15" fill="#1e90ff"/><rect x="718" y="730" width="3" height="10" fill="#1e90ff"/><rect x="722" y="737" width="3" height="3" fill="#1e90ff"/><rect x="726" y="740" width="3" height="4" fill="#ffa07a"/><rect x="730" y="740" width="3" height="4" fill="#ffa07a"/><rect x="734" y="740" width="3" height="5" fill="#ffa07a"/><rect x="738" y="738" width="3" height="2" fill="#1e90ff"/><rect x="742" y="740" width="3" height="1" fill="#ffa07a"/><rect x="746" y="739" width="3" height="1" fill="#1e90ff"/><rect x="750" y="740" width="3" height="5" fill="#ffa07a"/><rect x="754" y="740" width="3" height="1" fill="#ffa07a"/><rect x="758" y="740" width="3" height="1" fill="#ffa07a"/><rect x="762" y="740" width="3" height="6" fill="#ffa07a"/><rect x="766" y="740" width="3" height="5" fill="#ffa07a"/><rect x="770" y="740" width="3" height="4" fill="#ffa07a"/><rect x="774" y="740" width="3" height="5" fill="#ffa07a"/><rect x="778" y="740" width="3" height="3" fill="#ffa07a"/><rect x="782" y="740" width="3" height="3" fill="#ffa07a"/><rect x="786" y="735" width="3" height="5" fill="#1e90ff"/><rect x="790" y="735" width="3" height="5" fill="#1e90ff"/><rect x="794" y="740" width="3" height="3" fill="#ffa07a"/><rect x="798" y="737" width="3" height="3" fill="#1e90ff"/><rect x="802" y="732" width="3" height="8" fill="#1e90ff"/><rect x="806" y="733" width="3" height="7" fill="#1e90ff"/><rect x="810" y="731" width="3" height="9" fill="#1e90ff"/><rect x="814" y="735" width="3" height="5" fill="#1e90ff"/><rect x="818" y="734" width="3" height="6" fill="#1e90ff"/><rect x="822" y="740" width="3" height="1" fill="#ffa07a"/><rect x="826" y="740" width="3" height="4" fill="#ffa07a"/><rect x="830" y="740" width="3" height="7" fill="#ffa07a"/><rect x="834" y="740" width="3" height="10" fill="#ffa07a"/><rect x="838" y="740" width="3" height="12" fill="#ffa07a"/><rect x="842" y="740" width="3" height="16" fill="#ffa07a"/><rect x="846" y="740" width="3" height="8" fill="#ffa07a"/><rect x="850" y="740" width="3" height="10" fill="#ffa07a"/><rect x="854" y="740" width="3" height="5" fill="#ffa07a"/><rect x="858" y="737" width="3" height="3" fill="#1e90ff"/><rect x="862" y="740" width="3" height="0" fill="#1e90ff"/><rect x="866" y="740" width="3" height="1" fill="#ffa07a"/><rect x="870" y="740" width="3" height="1" fill="#ffa07a"/><rect x="874" y="740" width="3" height="1" fill="#ffa07a"/><rect x="878" y="740" width="3" height="1" fill="#ffa07a"/><rect x="882" y="740" width="3" height="1" fill="#ffa07a"/><rect x="886" y="740" width="3" height="1" fill="#ffa07a"/><rect x="890" y="740" width="3" height="1" fill="#ffa07a"/><rect x="894" y="739" width="3" height="1" fill="#1e90ff"/><rect x="898" y="737" width="3" height="3" fill="#1e90ff"/><rect x="902" y="737" width="3" height="3" fill="#1e90ff"/><rect x="906" y="737" width="3" height="3" fill="#1e90ff"/><rect x="910" y="735" width="3" height="5" fill="#1e90ff"/><rect x="914" y="736" width="3" height="4" fill="#1e90ff"/><rect x="918" y="736" width="3" height="4" fill="#1e90ff"/><rect x="922" y="740" width="3" height="1" fill="#ffa07a"/><rect x="926" y="740" width="3" height="7" fill="#ffa07a"/><rect x="930" y="740" width="3" height="5" fill="#ffa07a"/><rect x="934" y="740" width="3" height="1" fill="#ffa07a"/><rect x="938" y="740" width="3" height="2" fill="#ffa07a"/><rect x="942" y="740" width="3" height="1" fill="#ffa07a"/><rect x="946" y="740" width="3" height="2" fill="#ffa07a"/><rect x="950" y="740" width="3" height="2" fill="#ffa07a"/><rect x="954" y="740" width="3" height="1" fill="#ffa07a"/><rect x="958" y="740" width="3" height="2" fill="#ffa07a"/><rect x="962" y="737" width="3" height="3" fill="#1e90ff"/><rect x="966" y="735" width="3" height="5" fill="#1e90ff"/><rect x="970" y="735" width="3" height="5" fill="#1e90ff"/><rect x="974" y="736" width="3" height="4" fill="#1e90ff"/><rect x="978" y="736" width="3" height="4" fill="#1e90ff"/><rect x="982" y="737" width="3" height="3" fill="#1e90ff"/><rect x="986" y="740" width="3" height="2" fill="#ffa07a"/><rect x="990" y="740" width="3" height="3" fill="#ffa07a"/><rect x="994" y="740" width="3" height="2" fill="#ffa07a"/><rect x="998" y="734" width="3" height="6" fill="#1e90ff"/><rect x="1002" y="734" width="3" height="6" fill="#1e90ff"/><rect x="1006" y="736" width="3" height="4" fill="#1e90ff"/><rect x="1010" y="739" width="3" height="1" fill="#1e90ff"/><rect x="1014" y="737" width="3" height="3" fill="#1e90ff"/><rect x="1018" y="731" width="3" height="9" fill="#1e90ff"/><rect x="1022" y="727" width="3" height="13" fill="#1e90ff"/><rect x="1026" y="732" width="3" height="8" fill="#1e90ff"/><rect x="1030" y="734" width="3" height="6" fill="#1e90ff"/><rect x="1034" y="727" width="3" height="13" fill="#1e90ff"/><rect x="1038" y="725" width="3" height="15" fill="#1e90ff"/><rect x="1042" y="740" width="3" height="1" fill="#ffa07a"/><rect x="1046" y="740" width="3" height="7" fill="#ffa07a"/><rect x="1050" y="740" width="3" height="3" fill="#ffa07a"/><rect x="1054" y="738" width="3" height="2" fill="#1e90ff"/><rect x="1058" y="740" width="3" height="1" fill="#ffa07a"/><rect x="1062" y="740" width="3" height="6" fill="#ffa07a"/><rect x="1066" y="740" width="3" height="10" fill="#ffa07a"/><rect x="1070" y="740" width="3" height="12" fill="#ffa07a"/><rect x="1074" y="740" width="3" height="15" fill="#ffa07a"/><rect x="1078" y="740" width="3" height="13" fill="#ffa07a"/><rect x="1082" y="740" width="3" height="13" fill="#ffa07a"/><rect x="1086" y="738" width="3" height="2" fill="#1e90ff"/><rect x="1090" y="738" width="3" height="2" fill="#1e90ff"/><rect x="1094" y="740" width="3" height="1" fill="#ffa07a"/><rect x="1098" y="738" width="3" height="2" fill="#1e90ff"/><rect x="1102" y="737" width="3" height="3" fill="#1e90ff"/></g>
<polyline fill="none" stroke="#0000cd" stroke-width="2" stroke-linejoin="round" points="0.0,710.6 4.0,713.5 8.8,714.1 14.4,715.1 19.2,710.6 24.0,709.8 29.6,710.6 35.2,712.2 42.4,711.9 47.2,714.3 54.4,713.5 59.2,706.6 63.2,700.2 67.3,699.7 71.3,693.8 75.3,695.4 78.5,704.2 82.5,721.8 87.3,730.6 92.1,734.6 95.3,738.6 100.1,738.6 104.9,729.8 110.5,717.0 115.3,716.2 119.3,719.4 124.1,729.8 128.1,747.5 131.3,771.5 135.3,779.5 139.3,788.3 144.1,787.5 147.3,790.4 153.7,790.7 157.7,785.1 163.3,780.3 169.7,766.7 174.5,758.7 179.3,748.3 185.7,746.7 190.5,747.5 195.4,753.9 199.8,751.0 206.2,747.1 211.0,747.8 215.8,750.7 222.2,760.3 231.0,770.7 237.4,771.5 243.0,781.1 247.8,781.9 252.6,774.7 259.0,766.7 263.9,760.3 267.0,750.7 271.0,744.2 275.0,742.6 279.0,749.9 283.0,752.6 287.1,751.5 291.1,745.8 297.5,739.4 303.9,733.0 310.3,731.4 316.7,732.7 323.1,735.9 329.5,737.0 342.3,737.0 348.7,738.3 355.1,741.0 361.5,743.0 367.9,749.0 374.3,755.5 379.1,757.1 383.9,752.3 390.4,747.5 396.4,742.3 402.8,739.4 410.8,734.3 415.6,733.8 422.0,737.0 428.4,735.9 433.2,733.8 441.2,734.6 447.6,733.8 454.0,723.4 460.5,718.3 466.9,712.2 473.3,708.2 479.7,707.4 482.9,708.2 490.9,717.0 498.9,722.6 503.7,725.8 510.1,725.8 514.9,717.8 521.3,713.8 527.7,713.0 531.7,711.9 535.7,715.4 540.5,725.8 544.5,727.9 549.3,728.2 554.9,734.6 558.1,744.2 562.9,754.7 567.7,760.3 574.1,764.3 582.2,764.7 589.8,764.3 594.6,767.5 599.4,769.9 604.2,763.5 610.6,753.9 617.0,747.5 623.4,739.4 631.4,729.8 636.2,732.2 642.6,738.6 649.0,741.8 655.5,741.8 663.5,743.0 668.3,745.0 674.7,749.9 679.5,746.6 684.3,741.8 689.1,741.8 697.1,743.5 703.5,739.4 709.9,729.0 715.5,719.9 722.7,719.9 729.1,724.2 735.5,725.8 741.9,723.4 748.3,724.7 754.7,726.6 761.1,728.2 767.5,730.6 773.9,732.7 780.4,733.8 784.8,733.8 789.6,729.5 796.0,731.8 800.8,727.9 804.0,723.8 808.8,722.6 812.0,718.9 818.4,717.8 824.8,721.0 831.2,725.0 837.6,731.4 842.5,738.6 847.3,739.1 853.7,741.4 856.9,741.4 863.3,740.2 869.7,741.4 876.1,742.3 882.5,743.9 888.9,744.2 895.3,744.2 901.7,741.0 908.1,738.6 914.5,735.9 919.3,732.7 924.1,735.9 928.9,739.8 935.3,740.2 940.1,741.0 946.5,743.9 952.9,745.5 959.3,745.5 965.7,742.6 972.2,740.2 979.8,735.9 984.6,737.5 989.4,741.0 995.8,741.8 999.0,737.5 1003.8,735.9 1010.2,735.9 1015.0,734.6 1021.4,724.2 1024.6,722.6 1031.0,721.5 1035.8,713.8 1039.0,709.8 1042.3,712.2 1045.5,717.0 1051.9,717.8 1058.3,716.2 1064.7,721.0 1071.1,727.4 1077.5,733.8 1083.9,741.4 1088.7,737.0 1096.7,737.0 1103.1,735.9"/>
<polyline fill="none" stroke="#ff8c00" stroke-width="2" stroke-linejoin="round" points="0.0,710.6 9.6,713.8 16.0,713.5 20.8,710.9 30.4,710.3 36.8,710.9 48.0,713.5 54.4,713.0 64.0,704.2 72.0,697.5 76.9,698.1 81.7,707.4 88.1,723.4 94.5,733.0 100.1,736.2 105.7,729.0 112.1,721.0 118.5,718.6 124.1,726.6 129.7,741.0 136.1,768.3 140.9,779.5 147.3,785.9 153.7,789.1 160.1,785.1 168.1,774.7 176.1,761.9 184.1,750.7 190.5,748.3 201.4,750.7 207.8,748.7 214.2,749.0 220.6,757.1 231.8,766.7 238.2,769.9 243.0,776.3 247.8,777.9 254.2,774.7 262.3,765.1 268.7,753.9 275.0,747.5 281.5,750.7 287.9,749.9 294.3,744.2 300.7,738.6 307.1,733.4 313.5,732.7 319.9,733.0 326.3,735.4 335.9,735.9 345.5,736.2 351.9,738.6 358.3,741.4 364.7,744.6 371.1,749.9 376.0,754.2 382.3,753.9 388.8,749.0 398.0,743.9 406.0,739.4 412.4,735.4 420.4,735.9 428.4,735.9 438.0,734.3 447.6,734.6 457.3,725.0 465.3,717.0 473.3,710.6 481.3,708.7 489.3,713.8 498.9,721.0 506.9,725.0 511.7,724.7 518.1,717.8 526.1,714.3 532.5,713.0 538.9,719.4 545.3,725.0 550.1,726.6 556.5,733.8 562.9,747.5 569.3,757.9 577.3,763.1 590.0,763.1 597.8,767.5 601.0,767.5 607.4,760.3 617.0,750.7 625.0,741.8 631.4,733.8 637.8,733.8 645.8,737.8 652.3,741.0 660.3,741.8 666.7,743.0 674.7,748.7 681.1,744.2 687.5,743.5 697.1,744.0 703.5,741.0 711.5,731.4 717.9,722.6 724.3,721.8 732.3,723.4 738.7,724.7 745.1,723.8 751.5,725.8 757.9,726.6 764.3,728.6 770.7,730.6 777.2,732.7 785.0,733.0 792.8,730.6 799.2,730.6 805.6,726.6 812.0,722.6 820.0,718.6 826.4,721.0 832.8,724.2 839.2,729.0 844.0,734.6 850.5,738.6 856.9,740.7 864.9,740.2 872.9,741.4 882.5,742.3 892.1,742.3 898.5,741.4 906.5,739.4 914.5,736.6 920.9,734.6 927.3,737.8 935.3,738.6 943.3,741.8 949.7,744.2 956.1,745.5 962.5,745.0 969.0,741.8 975.0,740.0 981.4,738.6 987.8,739.4 994.2,741.4 1000.6,738.6 1007.0,736.6 1013.4,735.9 1019.8,729.8 1026.2,725.8 1032.6,722.6 1039.0,714.6 1042.3,713.8 1047.1,716.2 1051.9,717.0 1058.3,715.7 1066.3,719.4 1074.3,728.2 1082.3,737.0 1090.3,737.5 1096.7,737.0 1103.1,736.6"/>
<ellipse cx="1088" cy="735.5" rx="51" ry="43.5" fill="none" stroke="#f05a5a" stroke-width="2.5"/>
<g shape-rendering="crispEdges" fill="#000">
<rect x="1184" y="0" width="1" height="571"/>
<rect x="0" y="570" width="1185" height="1"/>
<rect x="0" y="572" width="1185" height="1"/>
<rect x="1184" y="572" width="1" height="114"/>
<rect x="0" y="685" width="1185" height="1"/>
<rect x="0" y="687" width="1185" height="1"/>
<rect x="1184" y="687" width="1" height="110"/>
<rect x="0" y="796" width="1185" height="1"/>
<rect x="1185" y="12" width="2" height="1"/>
<rect x="1185" y="61" width="2" height="1"/>
<rect x="1185" y="110" width="2" height="1"/>
<rect x="1185" y="159" width="2" height="1"/>
<rect x="1185" y="208" width="2" height="1"/>
<rect x="1185" y="257" width="2" height="1"/>
<rect x="1185" y="306" width="2" height="1"/>
<rect x="1185" y="355" width="2" height="1"/>
<rect x="1185" y="404" width="2" height="1"/>
<rect x="1185" y="453" width="2" height="1"/>
<rect x="1185" y="502" width="2" height="1"/>
<rect x="1185" y="551" width="2" height="1"/>
<rect x="1185" y="574" width="2" height="1"/>
<rect x="1185" y="629" width="2" height="1"/>
<rect x="1185" y="684" width="2" height="1"/>
<rect x="1185" y="689" width="2" height="1"/>
<rect x="1185" y="740" width="2" height="1"/>
<rect x="1185" y="795" width="2" height="1"/>
<rect x="7" y="797" width="1" height="3"/>
<rect x="103" y="797" width="1" height="3"/>
<rect x="199" y="797" width="1" height="3"/>
<rect x="295" y="797" width="1" height="3"/>
<rect x="391" y="797" width="1" height="3"/>
<rect x="487" y="797" width="1" height="3"/>
<rect x="583" y="797" width="1" height="3"/>
<rect x="679" y="797" width="1" height="3"/>
<rect x="775" y="797" width="1" height="3"/>
<rect x="871" y="797" width="1" height="3"/>
<rect x="967" y="797" width="1" height="3"/>
<rect x="1063" y="797" width="1" height="3"/>
</g>
<g font-family="Liberation Sans, sans-serif" font-size="12.6" fill="#000"><text x="1191" y="17">4415.35</text><text x="1191" y="66">4332.05</text><text x="1191" y="115">4250.35</text><text x="1191" y="164">4166.20</text><text x="1191" y="213">4082.05</text><text x="1191" y="262">3997.90</text><text x="1191" y="311">3915.40</text><text x="1191" y="360">3831.25</text><text x="1191" y="409">3748.75</text><text x="1191" y="458">3664.60</text><text x="1191" y="507">3582.10</text><text x="1191" y="556">3497.95</text><text x="1188" y="585">100</text><text x="1188" y="634">50</text><text x="1188" y="682">0</text><text x="1188" y="701">48.0327</text><text x="1188" y="745">0.00</text><text x="1188" y="793">-52.2344</text><text x="6" y="812" word-spacing="0.4">14 Oct 13:00</text><text x="102" y="812" word-spacing="0.4">20 Oct 13:00</text><text x="198" y="812" word-spacing="0.4">24 Oct 13:00</text><text x="294" y="812" word-spacing="0.4">30 Oct 13:00</text><text x="390" y="812" word-spacing="0.4">5 Nov 13:00</text><text x="486" y="812" word-spacing="0.4">11 Nov 13:00</text><text x="582" y="812" word-spacing="0.4">17 Nov 13:00</text><text x="678" y="812" word-spacing="0.4">21 Nov 13:00</text><text x="774" y="812" word-spacing="0.4">27 Nov 13:00</text><text x="870" y="812" word-spacing="0.4">3 Dec 13:00</text><text x="966" y="812" word-spacing="0.4">9 Dec 13:00</text><text x="1062" y="812" word-spacing="0.4">15 Dec 13:00</text></g>
<rect x="1186" y="15" width="56" height="13" fill="#ff0000" shape-rendering="crispEdges"/><text x="1191" y="26" font-family="Liberation Sans, sans-serif" font-size="12.6" fill="#fff">4400.42</text>
<rect x="1186" y="25" width="56" height="14" fill="#ff0000" shape-rendering="crispEdges"/><text x="1191" y="37" font-family="Liberation Sans, sans-serif" font-size="12.6" fill="#fff">4383.25</text>
<rect x="1186" y="60" width="56" height="14" fill="#000000" shape-rendering="crispEdges"/><text x="1191" y="72" font-family="Liberation Sans, sans-serif" font-size="12.6" fill="#fff">4323.09</text>
<rect x="1186" y="106" width="56" height="13" fill="#ff0000" shape-rendering="crispEdges"/><text x="1191" y="118" font-family="Liberation Sans, sans-serif" font-size="12.6" fill="#fff">4245.92</text>
<rect x="1186" y="118" width="56" height="14" fill="#ff0000" shape-rendering="crispEdges"/><text x="1191" y="130" font-family="Liberation Sans, sans-serif" font-size="12.6" fill="#fff">4225.63</text>
<rect x="1186" y="584" width="56" height="14" fill="#ff0000" shape-rendering="crispEdges"/><text x="1191" y="595" font-family="Liberation Sans, sans-serif" font-size="12.6" fill="#fff">85.0000</text>
<rect x="1186" y="601" width="56" height="14" fill="#ff0000" shape-rendering="crispEdges"/><text x="1191" y="612" font-family="Liberation Sans, sans-serif" font-size="12.6" fill="#fff">70.0000</text>
<rect x="1186" y="645" width="56" height="14" fill="#0000ff" shape-rendering="crispEdges"/><text x="1191" y="656" font-family="Liberation Sans, sans-serif" font-size="12.6" fill="#fff">30.0000</text>
<rect x="1186" y="662" width="56" height="14" fill="#0000ff" shape-rendering="crispEdges"/><text x="1191" y="673" font-family="Liberation Sans, sans-serif" font-size="12.6" fill="#fff">15.0000</text>
</svg>
</body></html>
